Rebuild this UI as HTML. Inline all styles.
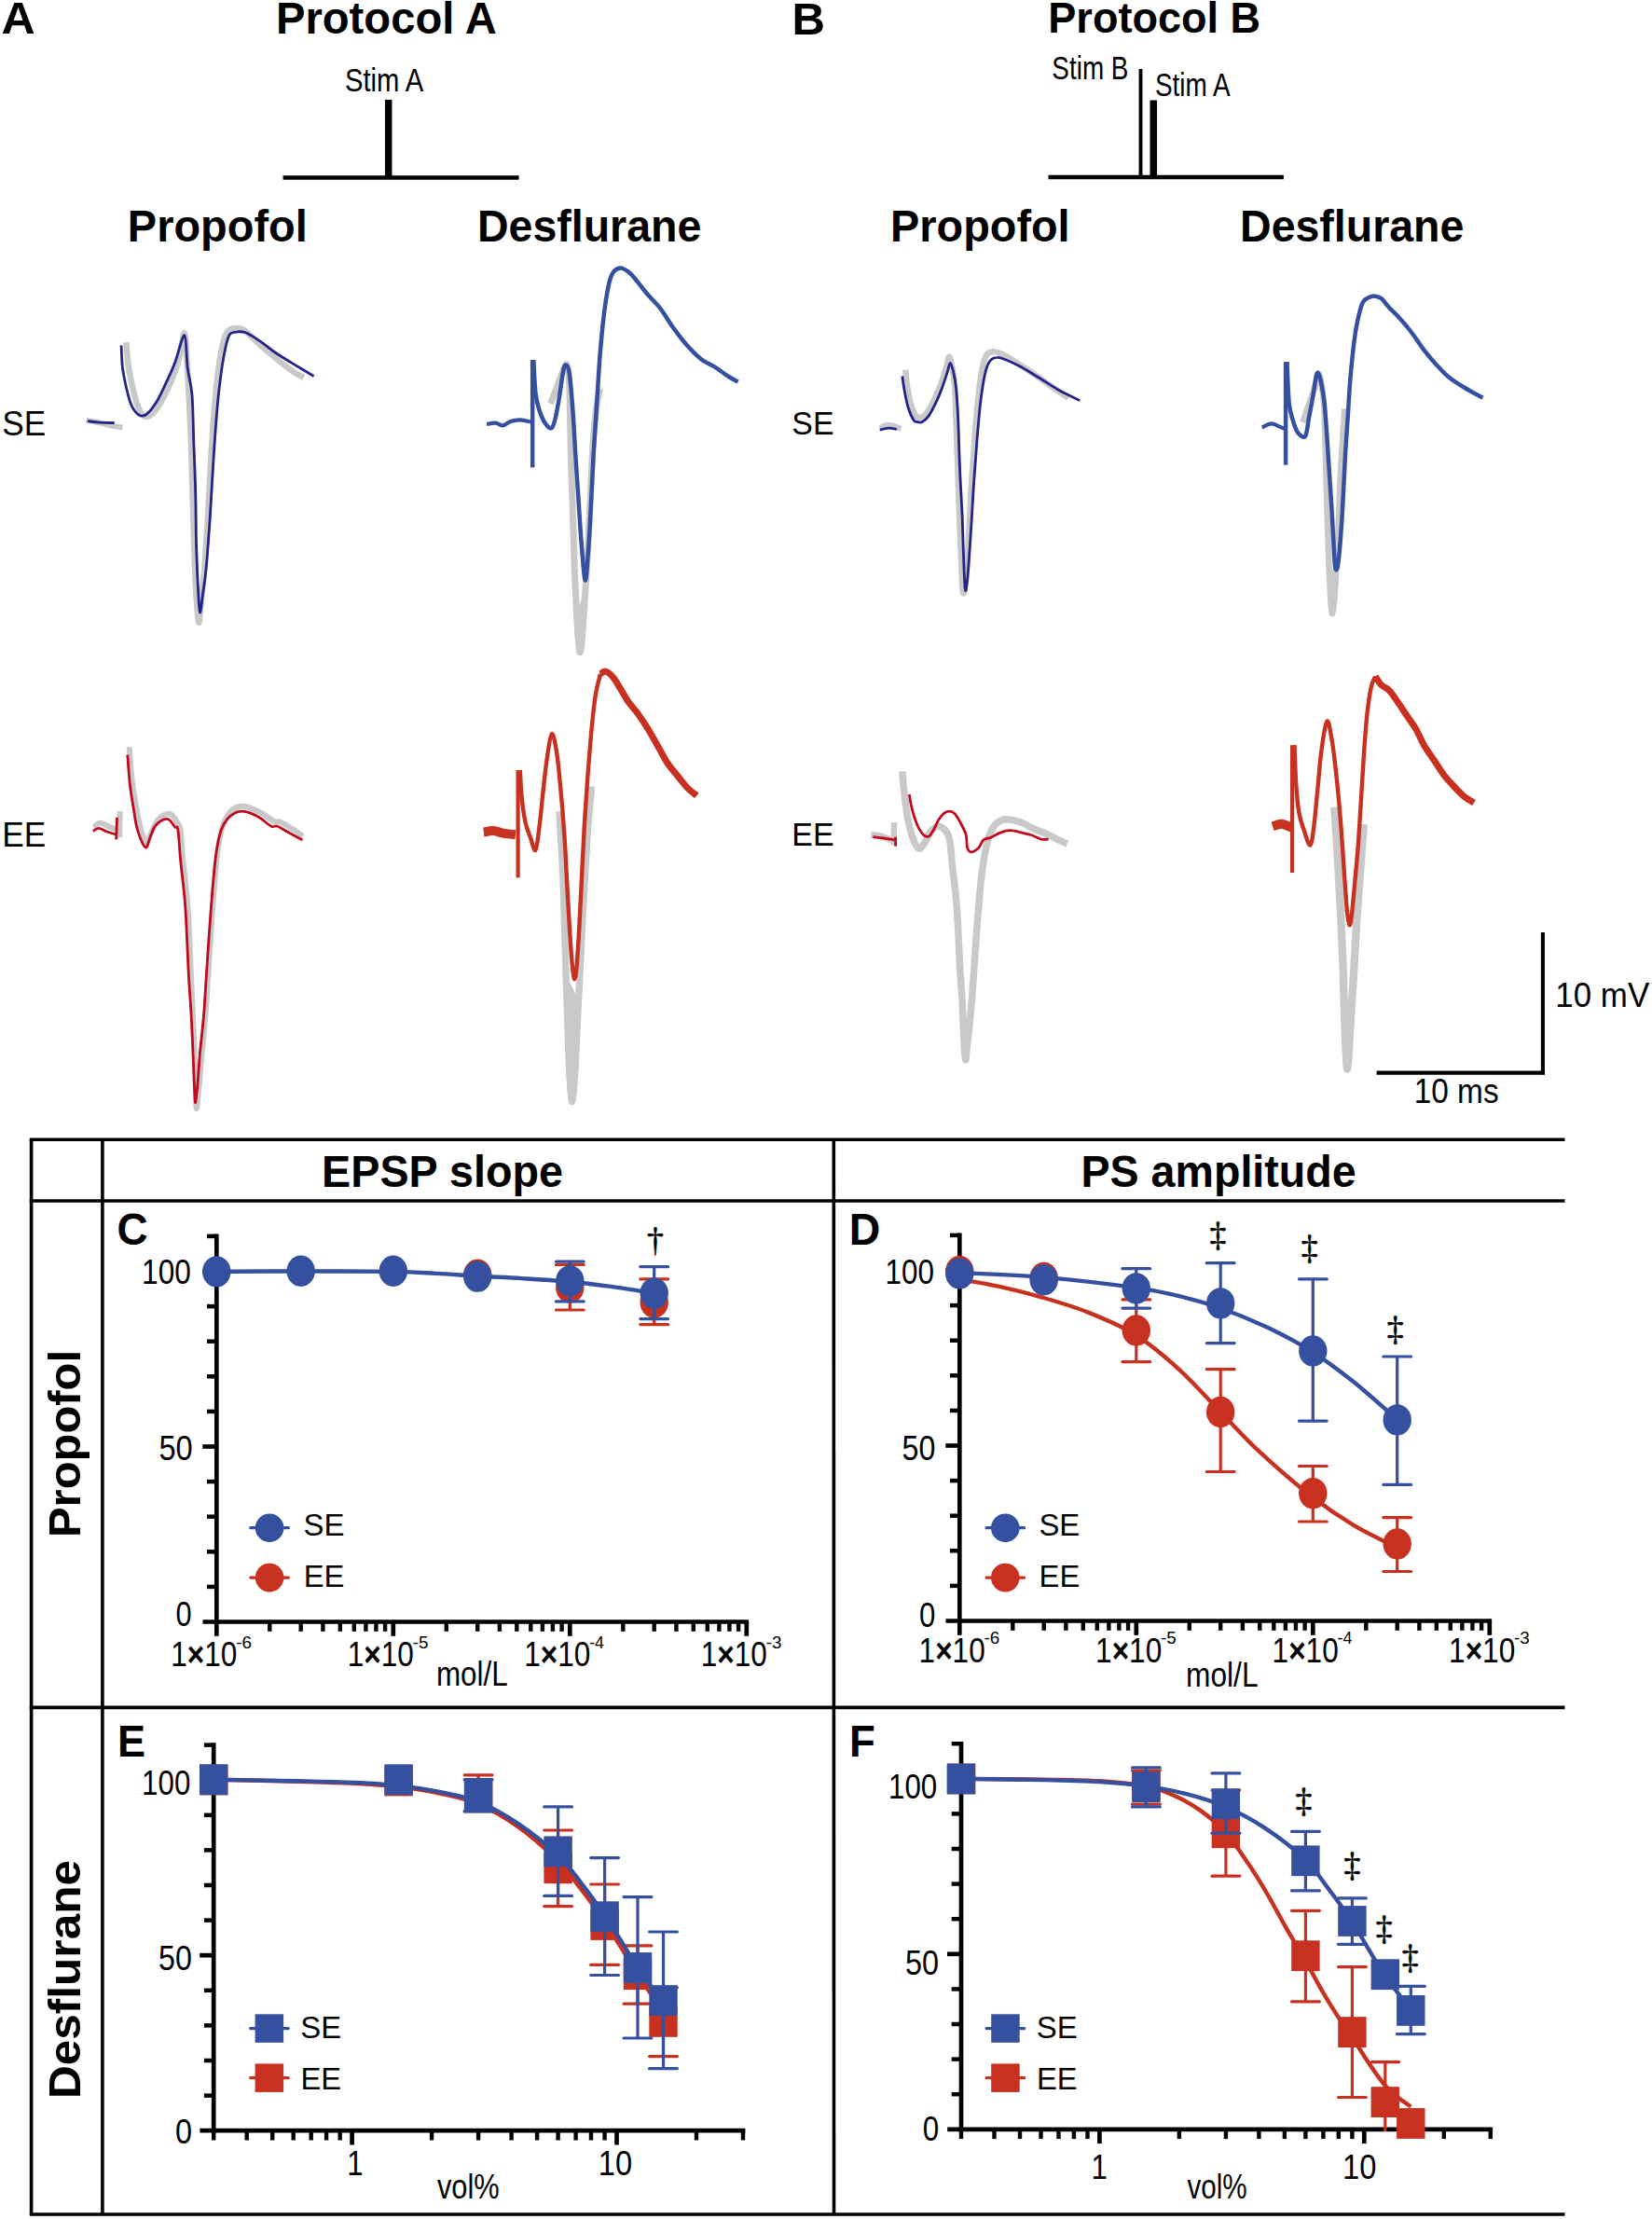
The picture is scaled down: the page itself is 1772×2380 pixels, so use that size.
<!DOCTYPE html>
<html><head><meta charset="utf-8"><title>Figure</title>
<style>
html,body{margin:0;padding:0;background:#fff;}
svg{display:block;font-family:'Liberation Sans', Arial, Helvetica, sans-serif;}
</style></head><body>
<svg width="1772" height="2380" viewBox="0 0 1772 2380">
<rect width="1772" height="2380" fill="#fff"/>
<text x="1.45" y="36.40" font-size="48.39" font-weight="bold" textLength="36.17" lengthAdjust="spacingAndGlyphs">A</text>
<text x="295.97" y="36.30" font-size="48.18" font-weight="bold" textLength="236.77" lengthAdjust="spacingAndGlyphs">Protocol A</text>
<text x="849.41" y="36.90" font-size="48.70" font-weight="bold" textLength="35.52" lengthAdjust="spacingAndGlyphs">B</text>
<text x="1124.29" y="34.60" font-size="46.31" font-weight="bold" textLength="227.86" lengthAdjust="spacingAndGlyphs">Protocol B</text>
<text x="136.86" y="258.60" font-size="48.50" font-weight="bold" textLength="192.86" lengthAdjust="spacingAndGlyphs">Propofol</text>
<text x="511.99" y="258.70" font-size="48.50" font-weight="bold" textLength="240.30" lengthAdjust="spacingAndGlyphs">Desflurane</text>
<text x="955.07" y="258.50" font-size="48.29" font-weight="bold" textLength="192.55" lengthAdjust="spacingAndGlyphs">Propofol</text>
<text x="1330.09" y="258.50" font-size="48.29" font-weight="bold" textLength="240.30" lengthAdjust="spacingAndGlyphs">Desflurane</text>
<text x="369.90" y="98.10" font-size="35.70" textLength="84.46" lengthAdjust="spacingAndGlyphs">Stim A</text>
<line x1="303.6" y1="190.5" x2="556.6" y2="190.5" stroke="#000" stroke-width="4.5"/>
<line x1="416.7" y1="106.9" x2="416.7" y2="190.5" stroke="#000" stroke-width="7.5"/>
<text x="1128.33" y="84.50" font-size="34.86" textLength="82.14" lengthAdjust="spacingAndGlyphs">Stim B</text>
<text x="1238.95" y="102.60" font-size="34.86" textLength="80.80" lengthAdjust="spacingAndGlyphs">Stim A</text>
<line x1="1124.5" y1="189.9" x2="1376.9" y2="189.9" stroke="#000" stroke-width="4.5"/>
<line x1="1223.5" y1="74.0" x2="1223.5" y2="190.0" stroke="#000" stroke-width="3.9"/>
<line x1="1237.3" y1="107.5" x2="1237.3" y2="190.0" stroke="#000" stroke-width="7.6"/>
<text x="2.30" y="467.40" font-size="36.74" textLength="47.01" lengthAdjust="spacingAndGlyphs">SE</text>
<text x="2.20" y="908.30" font-size="36.74" textLength="47.11" lengthAdjust="spacingAndGlyphs">EE</text>
<text x="849.36" y="466.30" font-size="35.18" textLength="45.19" lengthAdjust="spacingAndGlyphs">SE</text>
<text x="849.32" y="907.00" font-size="35.18" textLength="45.24" lengthAdjust="spacingAndGlyphs">EE</text>
<path d="M92.5,450.9C95.0,451.4 102.4,452.6 107.3,453.6C112.2,454.6 118.0,456.3 122.0,457.1C126.0,457.9 129.8,458.2 131.4,458.4" fill="none" stroke="#c9c9c9" stroke-width="6" stroke-linejoin="round" stroke-linecap="butt"/>
<path d="M135.4,367.3C135.7,370.8 136.3,381.1 137.3,388.7C138.3,396.3 140.0,405.5 141.6,412.9C143.2,420.2 145.1,427.6 147.0,433.0C148.8,438.3 150.5,442.9 152.9,445.0C155.2,447.1 157.8,447.6 160.9,445.6C164.0,443.6 168.1,438.6 171.6,433.0C175.2,427.3 179.0,419.3 182.4,411.5C185.7,403.7 189.1,395.1 191.7,386.0C194.3,377.0 196.4,356.6 197.9,357.1C199.4,357.5 199.8,377.2 200.6,388.7C201.4,400.3 202.0,412.0 202.7,426.3C203.5,440.6 204.3,457.6 204.9,474.5C205.5,491.5 206.0,510.3 206.5,528.2C207.0,546.0 207.5,564.8 208.1,581.8C208.7,598.8 209.1,615.8 210.0,630.1C210.8,644.4 212.2,665.8 213.2,667.6C214.2,669.4 215.1,650.6 216.1,640.8C217.2,631.0 218.3,622.0 219.4,608.6C220.4,595.2 221.5,579.1 222.6,560.3C223.7,541.6 224.9,515.7 226.1,496.0C227.2,476.3 228.3,458.4 229.6,442.4C230.8,426.3 232.4,411.1 233.8,399.4C235.3,387.8 236.7,379.6 238.1,372.6C239.6,365.7 240.8,361.2 242.7,357.9C244.6,354.5 246.3,353.2 249.4,352.5C252.5,351.8 257.0,351.4 261.5,353.9C265.9,356.3 270.6,362.4 276.2,367.3C281.8,372.2 288.7,378.2 295.0,383.4C301.2,388.5 308.6,394.5 313.8,398.1C318.9,401.7 323.8,403.7 325.8,404.8" fill="none" stroke="#c9c9c9" stroke-width="6.5" stroke-linejoin="round" stroke-linecap="butt"/>
<path d="M93.9,451.7C96.1,452.0 102.4,452.8 107.3,453.1C112.1,453.4 120.2,453.5 122.8,453.6" fill="none" stroke="#23238a" stroke-width="2.8" stroke-linejoin="round" stroke-linecap="butt"/>
<path d="M130.1,370.5C130.3,374.4 130.5,386.6 131.4,394.1C132.3,401.6 133.9,408.8 135.4,415.5C137.0,422.2 138.6,429.4 140.8,434.3C143.0,439.2 146.2,443.3 148.8,445.0C151.5,446.7 153.7,446.7 156.9,444.5C160.0,442.3 164.0,437.3 167.6,431.6C171.2,425.9 175.0,417.3 178.3,410.2C181.7,403.0 184.5,397.1 187.7,388.7C191.0,380.3 195.7,358.9 197.9,359.8C200.1,360.7 199.8,383.4 201.1,394.1C202.5,404.7 204.8,410.2 206.0,423.6C207.1,437.0 207.2,457.1 207.8,474.5C208.5,492.0 209.3,510.3 209.7,528.2C210.2,546.0 210.1,564.8 210.5,581.8C211.0,598.8 211.7,617.6 212.4,630.1C213.1,642.6 213.6,656.0 214.5,656.9C215.4,657.8 216.6,643.5 217.8,635.4C218.9,627.4 220.0,622.0 221.2,608.6C222.5,595.2 223.9,575.1 225.3,555.0C226.6,534.9 227.9,508.1 229.3,487.9C230.6,467.8 232.0,449.1 233.3,434.3C234.6,419.6 236.0,409.3 237.3,399.4C238.7,389.6 240.0,381.8 241.4,375.3C242.7,368.8 243.8,363.7 245.4,360.6C246.9,357.4 247.8,357.2 250.7,356.5C253.6,355.9 258.1,355.0 262.8,356.5C267.5,358.1 273.5,362.4 278.9,365.9C284.3,369.5 288.7,373.7 295.0,378.0C301.2,382.2 309.5,387.2 316.4,391.4C323.4,395.6 333.2,401.5 336.6,403.5" fill="none" stroke="#23238a" stroke-width="2.8" stroke-linejoin="round" stroke-linecap="butt"/>
<path d="M590.5,433.0C591.6,430.1 595.1,421.1 597.2,415.5C599.3,410.0 601.6,403.6 603.4,399.4C605.2,395.3 606.7,389.1 607.9,390.9C609.1,392.7 609.9,394.9 610.6,410.2C611.3,425.5 611.6,460.7 612.2,482.6C612.8,504.5 613.4,520.6 614.1,541.6C614.8,562.6 615.5,588.5 616.2,608.6C617.0,628.7 617.9,648.4 618.7,662.3C619.4,676.1 620.2,685.5 620.8,691.8C621.4,698.0 621.6,699.8 622.1,699.8C622.6,699.8 623.2,697.1 623.7,691.8C624.3,686.4 625.0,677.0 625.6,667.6C626.3,658.2 627.0,647.5 627.8,635.4C628.5,623.4 629.4,608.6 630.2,595.2C630.9,581.8 631.3,575.1 632.3,555.0C633.3,534.9 634.8,494.6 636.1,474.5C637.4,454.4 638.9,443.9 640.1,434.3C641.4,424.7 643.0,419.8 643.6,416.9" fill="none" stroke="#c9c9c9" stroke-width="7" stroke-linejoin="round" stroke-linecap="butt"/>
<polygon points="618.7,662.3 620.8,691.8 622.1,699.8 623.7,691.8 625.6,667.6 627.8,635.4" fill="#c9c9c9" stroke="#c9c9c9" stroke-width="3" stroke-linejoin="round"/>
<path d="M522.1,455.0C523.7,454.7 528.6,453.4 531.5,453.6C534.4,453.8 536.9,456.6 539.5,456.3C542.2,456.0 544.5,453.0 547.6,452.0C550.7,451.0 554.7,450.3 558.3,450.4C561.9,450.5 567.3,452.2 569.0,452.5" fill="none" stroke="#3650a0" stroke-width="4.2" stroke-linejoin="round" stroke-linecap="butt"/>
<line x1="571.2" y1="386.0" x2="571.2" y2="501.4" stroke="#3650a0" stroke-width="4.5"/>
<path d="M572.3,386.0C572.6,391.8 573.4,412.0 574.4,420.9C575.4,429.8 576.6,434.1 578.4,439.7C580.2,445.3 582.9,451.2 585.1,454.4C587.4,457.6 590.0,460.1 591.8,459.0C593.6,457.9 594.5,453.2 595.9,447.7C597.2,442.3 598.5,434.3 599.9,426.3C601.2,418.2 602.8,405.3 603.9,399.4C605.0,393.6 605.5,391.4 606.6,391.4C607.7,391.4 609.3,391.0 610.6,399.4C611.9,407.9 613.5,427.6 614.6,442.4C615.7,457.1 616.4,473.6 617.3,487.9C618.2,502.2 619.0,513.4 620.0,528.2C621.0,542.9 622.0,560.8 623.2,576.4C624.5,592.1 626.2,618.9 627.5,622.0C628.8,625.2 629.6,608.6 630.7,595.2C631.8,581.8 633.0,559.5 633.9,541.6C634.9,523.7 635.6,505.8 636.6,487.9C637.6,470.1 638.9,452.2 640.1,434.3C641.3,416.4 642.2,397.2 643.6,380.7C644.9,364.1 646.5,348.0 648.1,335.1C649.8,322.1 651.7,310.3 653.5,302.9C655.3,295.5 656.6,293.4 658.9,290.8C661.1,288.3 664.0,287.2 666.9,287.6C669.8,288.1 673.4,291.0 676.3,293.5C679.2,296.1 681.2,299.1 684.4,302.9C687.5,306.7 691.1,311.6 695.1,316.3C699.1,321.0 704.0,325.3 708.5,331.1C713.0,336.9 717.4,344.9 721.9,351.2C726.4,357.4 730.4,363.0 735.3,368.6C740.2,374.2 746.0,380.5 751.4,384.7C756.8,388.9 762.6,391.0 767.5,394.1C772.4,397.2 776.9,400.9 780.9,403.5C784.9,406.1 789.8,408.6 791.6,409.6" fill="none" stroke="#3650a0" stroke-width="4.5" stroke-linejoin="round" stroke-linecap="butt"/>
<path d="M100.6,887.5C101.7,886.7 104.4,882.8 107.3,882.7C110.2,882.6 114.9,885.7 118.0,887.0C121.1,888.2 124.7,889.6 126.0,890.2" fill="none" stroke="#c9c9c9" stroke-width="6" stroke-linejoin="round" stroke-linecap="butt"/>
<path d="M128.7,870.1L128.2,898.2" fill="none" stroke="#c9c9c9" stroke-width="6" stroke-linejoin="round" stroke-linecap="butt"/>
<path d="M138.6,801.1C139.1,806.6 140.2,823.9 141.3,833.9C142.4,843.8 143.9,852.0 145.3,860.7C146.8,869.4 148.3,879.0 150.2,886.2C152.1,893.3 154.9,902.5 156.9,903.6C158.9,904.7 160.3,896.7 162.2,892.9C164.2,889.1 166.2,883.9 168.4,880.8C170.6,877.7 173.1,875.3 175.7,874.1C178.2,872.9 181.1,872.0 183.7,873.5C186.2,875.1 189.3,880.7 190.9,883.5C192.6,886.2 192.7,883.7 193.6,890.2C194.5,896.7 195.0,909.4 196.3,922.4C197.6,935.3 200.0,953.6 201.1,967.9C202.3,982.2 202.6,994.8 203.3,1008.2C203.9,1021.6 204.5,1035.0 205.1,1048.4C205.8,1061.8 206.4,1075.2 207.0,1088.6C207.6,1102.0 208.1,1115.4 208.6,1128.8C209.1,1142.3 209.6,1159.0 210.0,1169.1C210.3,1179.1 210.2,1189.2 210.8,1189.2C211.3,1189.2 212.2,1179.1 213.2,1169.1C214.2,1159.0 215.5,1142.3 216.7,1128.8C217.9,1115.4 219.4,1102.0 220.4,1088.6C221.5,1075.2 222.2,1061.8 223.1,1048.4C224.0,1035.0 224.7,1023.8 225.8,1008.2C226.9,992.5 228.3,970.2 229.6,954.5C230.8,938.9 231.8,925.7 233.3,914.3C234.8,902.9 236.7,893.1 238.7,886.2C240.7,879.2 242.9,876.1 245.4,872.7C247.8,869.4 250.7,867.4 253.4,866.0C256.1,864.7 258.6,864.5 261.5,864.7C264.4,864.9 267.5,866.0 270.9,867.4C274.2,868.7 277.8,870.5 281.6,872.7C285.4,875.0 290.5,879.3 293.6,880.8C296.8,882.3 297.4,880.5 300.3,881.6C303.3,882.7 307.0,884.9 311.1,887.5C315.2,890.0 322.7,895.3 325.0,896.9" fill="none" stroke="#c9c9c9" stroke-width="6" stroke-linejoin="round" stroke-linecap="butt"/>
<path d="M99.8,891.5C100.8,891.0 103.3,888.2 105.9,888.3C108.5,888.4 112.2,891.2 115.3,892.3C118.4,893.4 123.1,894.6 124.7,895.0" fill="none" stroke="#c2081c" stroke-width="2.8" stroke-linejoin="round" stroke-linecap="butt"/>
<path d="M125.5,876.8L124.7,900.4" fill="none" stroke="#c2081c" stroke-width="2.8" stroke-linejoin="round" stroke-linecap="butt"/>
<path d="M136.8,809.7C137.2,815.1 138.3,832.1 139.4,841.9C140.6,851.7 142.1,860.7 143.5,868.7C144.8,876.8 145.4,883.5 147.5,890.2C149.6,896.9 153.8,907.6 156.1,908.9C158.3,910.3 159.2,902.0 160.9,898.2C162.6,894.4 164.0,889.3 166.3,886.2C168.5,883.0 171.9,880.7 174.3,879.4C176.8,878.2 178.8,877.7 181.0,878.9C183.2,880.2 186.1,885.1 187.7,887.0C189.4,888.8 190.0,884.3 190.9,890.2C191.9,896.1 192.4,909.4 193.6,922.4C194.9,935.3 197.3,953.6 198.4,967.9C199.6,982.2 199.9,994.8 200.6,1008.2C201.3,1021.6 201.7,1035.0 202.5,1048.4C203.2,1061.8 204.4,1075.2 205.1,1088.6C205.9,1102.0 206.4,1115.4 207.0,1128.8C207.6,1142.3 208.2,1160.1 208.6,1169.1C209.1,1178.0 209.2,1183.4 209.7,1182.5C210.2,1181.6 211.0,1172.6 211.9,1163.7C212.7,1154.8 213.4,1141.4 214.5,1128.8C215.7,1116.3 217.4,1102.0 218.6,1088.6C219.7,1075.2 220.3,1061.8 221.2,1048.4C222.1,1035.0 222.8,1023.8 223.9,1008.2C225.0,992.5 226.6,970.2 227.9,954.5C229.3,938.9 230.4,925.0 232.0,914.3C233.5,903.6 235.3,896.2 237.3,890.2C239.3,884.1 241.6,881.1 244.0,878.1C246.5,875.1 249.4,873.3 252.1,871.9C254.8,870.6 257.4,870.1 260.1,870.1C262.8,870.1 265.0,870.7 268.2,871.9C271.3,873.1 275.1,874.9 278.9,877.3C282.7,879.7 287.8,884.7 291.0,886.2C294.1,887.6 294.8,885.1 297.7,886.2C300.6,887.2 303.9,889.9 308.4,892.3C312.9,894.8 321.8,899.5 324.5,900.9" fill="none" stroke="#c2081c" stroke-width="2.8" stroke-linejoin="round" stroke-linecap="butt"/>
<path d="M599.9,870.3C600.2,875.9 601.1,892.0 601.8,903.8C602.4,915.7 603.3,926.2 603.9,941.4C604.5,956.5 605.0,977.1 605.5,995.0C606.0,1012.9 606.6,1033.0 607.1,1048.6C607.6,1064.3 608.0,1075.4 608.5,1088.8C608.9,1102.3 609.3,1117.0 609.8,1129.1C610.3,1141.1 610.8,1152.5 611.4,1161.2C612.0,1170.0 612.6,1180.0 613.3,1181.4C614.0,1182.7 614.8,1175.8 615.4,1169.3C616.1,1162.8 616.7,1152.8 617.3,1142.5C617.9,1132.2 618.4,1118.8 618.9,1107.6C619.5,1096.4 619.8,1089.7 620.5,1075.4C621.2,1061.1 622.2,1041.9 623.2,1021.8C624.2,1001.7 625.4,977.1 626.7,954.8C627.9,932.4 629.4,906.3 630.7,887.7C632.1,869.2 634.1,850.8 634.7,843.5" fill="none" stroke="#c9c9c9" stroke-width="7.2" stroke-linejoin="round" stroke-linecap="butt"/>
<polygon points="607.1,1048.6 608.5,1088.8 609.8,1129.1 611.4,1161.2 613.3,1181.4 615.4,1169.3 617.3,1142.5 618.9,1107.6 620.5,1075.4" fill="#c9c9c9" stroke="#c9c9c9" stroke-width="3" stroke-linejoin="round"/>
<path d="M518.9,892.5C520.5,892.3 525.4,890.8 528.8,890.9C532.3,891.1 535.5,892.9 539.5,893.6C543.6,894.3 550.7,895.0 552.9,895.2" fill="none" stroke="#c83020" stroke-width="10" stroke-linejoin="round" stroke-linecap="butt"/>
<line x1="555.6" y1="826.0" x2="555.6" y2="941.4" stroke="#c83020" stroke-width="4.2"/>
<path d="M557.8,826.0C558.1,831.0 558.7,846.2 559.7,855.5C560.6,864.9 562.1,875.2 563.7,882.4C565.2,889.5 567.3,893.5 569.0,898.4C570.8,903.4 572.8,913.6 574.4,911.9C576.0,910.1 577.1,898.0 578.4,887.7C579.8,877.4 581.1,862.2 582.4,850.2C583.8,838.1 584.9,825.8 586.5,815.3C588.0,804.8 590.0,788.5 591.8,787.2C593.6,785.8 595.6,797.7 597.2,807.3C598.8,816.9 599.9,830.5 601.2,844.8C602.6,859.1 604.1,877.0 605.2,893.1C606.4,909.2 607.0,925.3 607.9,941.4C608.8,957.4 609.7,974.9 610.6,989.6C611.5,1004.4 612.4,1019.8 613.3,1029.8C614.2,1039.9 615.1,1049.1 616.0,1050.0C616.9,1050.9 617.8,1044.4 618.7,1035.2C619.5,1026.0 620.4,1010.6 621.3,995.0C622.2,979.3 623.1,959.2 624.0,941.4C624.9,923.5 625.6,906.5 626.7,887.7C627.8,868.9 629.4,846.6 630.7,828.7C632.1,810.8 633.4,794.3 634.7,780.5C636.1,766.6 637.2,755.2 638.8,745.6C640.3,736.0 643.2,726.6 644.1,722.8" fill="none" stroke="#c83020" stroke-width="4.4" stroke-linejoin="round" stroke-linecap="butt"/>
<path d="M644.1,722.8C645.0,722.3 647.3,719.5 649.5,720.1C651.7,720.7 654.9,723.2 657.5,726.3C660.2,729.4 662.9,734.5 665.6,738.9C668.3,743.2 670.5,747.8 673.6,752.3C676.8,756.8 680.8,760.8 684.4,765.7C687.9,770.6 691.5,776.0 695.1,781.8C698.7,787.6 702.2,794.3 705.8,800.6C709.4,806.8 713.0,814.0 716.5,819.3C720.1,824.7 723.7,828.4 727.3,832.7C730.8,837.1 734.6,842.2 738.0,845.6C741.3,849.1 745.8,852.1 747.4,853.4" fill="none" stroke="#c83020" stroke-width="7" stroke-linejoin="round" stroke-linecap="butt"/>
<path d="M943.7,459.0C945.2,458.4 949.2,455.6 953.0,455.8C956.8,455.9 964.2,459.1 966.5,459.8" fill="none" stroke="#c9c9c9" stroke-width="6" stroke-linejoin="round" stroke-linecap="butt"/>
<path d="M971.3,396.8C971.6,399.9 972.2,409.3 973.2,415.5C974.1,421.8 975.7,429.3 977.2,434.3C978.7,439.3 980.2,443.3 982.0,445.6C983.8,447.8 985.8,448.3 987.9,447.7C990.0,447.2 992.1,445.7 994.6,442.4C997.1,439.0 1000.1,433.0 1002.7,427.6C1005.2,422.2 1007.7,416.0 1009.9,410.2C1012.0,404.4 1014.1,397.3 1015.5,392.7C1016.9,388.2 1017.2,382.6 1018.2,382.8C1019.2,383.0 1020.4,388.6 1021.4,394.1C1022.4,399.5 1023.4,406.6 1024.1,415.5C1024.8,424.5 1024.9,433.4 1025.4,447.7C1026.0,462.0 1026.7,483.5 1027.3,501.4C1028.0,519.2 1028.6,539.3 1029.2,555.0C1029.8,570.6 1030.2,581.8 1030.8,595.2C1031.4,608.6 1032.1,631.4 1033.0,635.4C1033.9,639.5 1035.1,630.5 1036.2,619.3C1037.2,608.2 1038.4,585.8 1039.4,568.4C1040.4,551.0 1041.3,531.3 1042.3,514.8C1043.4,498.2 1044.5,483.0 1045.6,469.2C1046.6,455.3 1047.6,443.2 1048.8,431.6C1050.0,420.0 1051.3,407.7 1052.8,399.4C1054.3,391.2 1055.7,385.7 1057.6,382.0C1059.5,378.3 1061.7,377.6 1064.3,377.2C1067.0,376.7 1069.5,377.4 1073.7,379.3C1078.0,381.3 1084.0,385.1 1089.8,388.7C1095.6,392.3 1102.3,396.5 1108.6,400.8C1114.8,405.0 1121.1,409.9 1127.4,414.2C1133.6,418.5 1143.0,424.7 1146.1,426.8" fill="none" stroke="#c9c9c9" stroke-width="6.5" stroke-linejoin="round" stroke-linecap="butt"/>
<path d="M943.7,461.1C945.2,460.8 950.0,459.4 953.0,459.2C956.1,459.1 960.4,460.1 961.9,460.3" fill="none" stroke="#23238a" stroke-width="2.8" stroke-linejoin="round" stroke-linecap="butt"/>
<path d="M967.8,403.5C968.2,406.4 969.4,415.1 970.5,420.9C971.6,426.7 972.9,433.4 974.5,438.3C976.1,443.2 978.3,448.0 979.9,450.4C981.4,452.8 982.3,452.2 983.9,452.5C985.4,452.9 987.2,453.6 989.2,452.5C991.3,451.5 993.5,449.9 995.9,446.4C998.4,442.9 1001.5,436.8 1004.0,431.6C1006.5,426.5 1008.7,420.9 1010.7,415.5C1012.7,410.2 1014.6,403.8 1016.1,399.4C1017.5,395.1 1018.2,389.3 1019.3,389.3C1020.4,389.3 1021.7,395.1 1022.8,399.4C1023.8,403.8 1024.6,407.5 1025.4,415.5C1026.3,423.6 1026.9,433.4 1027.6,447.7C1028.3,462.0 1028.7,483.5 1029.5,501.4C1030.2,519.2 1031.5,539.3 1032.2,555.0C1032.8,570.6 1033.0,582.2 1033.5,595.2C1034.0,608.2 1034.6,629.2 1035.4,632.8C1036.1,636.3 1037.0,627.4 1038.1,616.7C1039.1,605.9 1040.4,585.4 1041.5,568.4C1042.7,551.4 1043.6,531.3 1044.8,514.8C1045.9,498.2 1047.1,483.0 1048.2,469.2C1049.4,455.3 1050.4,442.8 1051.7,431.6C1053.1,420.5 1054.6,409.5 1056.3,402.1C1057.9,394.8 1059.4,390.5 1061.7,387.4C1063.9,384.3 1066.8,383.6 1069.7,383.4C1072.6,383.1 1074.8,384.3 1079.1,386.0C1083.3,387.7 1089.4,390.4 1095.2,393.5C1101.0,396.7 1107.2,400.7 1113.9,404.8C1120.6,408.9 1128.0,414.1 1135.4,418.2C1142.8,422.3 1154.4,427.6 1158.2,429.5" fill="none" stroke="#23238a" stroke-width="2.8" stroke-linejoin="round" stroke-linecap="butt"/>
<path d="M1397.4,453.1C1398.3,450.4 1400.7,442.8 1402.7,437.0C1404.8,431.2 1407.4,424.3 1409.5,418.2C1411.5,412.2 1413.2,400.3 1414.8,400.8C1416.4,401.2 1417.9,413.1 1418.8,420.9C1419.8,428.7 1420.0,429.8 1420.7,447.7C1421.4,465.6 1422.3,508.1 1422.9,528.2C1423.4,548.3 1423.8,555.0 1424.2,568.4C1424.6,581.8 1425.0,596.6 1425.5,608.6C1426.0,620.7 1426.6,632.5 1427.1,640.8C1427.7,649.1 1428.1,657.3 1428.8,658.2C1429.4,659.1 1430.2,653.1 1430.9,646.2C1431.6,639.2 1432.4,627.4 1433.0,616.7C1433.7,605.9 1434.2,598.8 1434.9,581.8C1435.7,564.8 1436.7,533.5 1437.6,514.8C1438.5,496.0 1439.5,481.9 1440.3,469.2C1441.0,456.4 1441.9,443.5 1442.2,438.3" fill="none" stroke="#c9c9c9" stroke-width="6.5" stroke-linejoin="round" stroke-linecap="butt"/>
<polygon points="1425.5,608.6 1427.1,640.8 1428.8,658.2 1430.9,646.2 1433.0,616.7" fill="#c9c9c9" stroke="#c9c9c9" stroke-width="3" stroke-linejoin="round"/>
<path d="M1353.7,458.4C1355.4,457.8 1360.6,454.5 1363.9,454.4C1367.1,454.3 1370.9,457.0 1373.2,457.9C1375.6,458.8 1377.0,459.5 1377.8,459.8" fill="none" stroke="#3650a0" stroke-width="4.2" stroke-linejoin="round" stroke-linecap="butt"/>
<line x1="1379.1" y1="388.2" x2="1379.1" y2="498.7" stroke="#3650a0" stroke-width="4.5"/>
<path d="M1380.5,388.2C1380.8,395.4 1381.6,421.3 1382.6,431.6C1383.7,442.0 1385.1,445.0 1386.7,450.4C1388.2,455.8 1389.8,460.9 1392.0,463.8C1394.3,466.7 1398.1,470.5 1400.1,467.8C1402.1,465.1 1402.7,454.6 1404.1,447.7C1405.4,440.8 1406.8,433.9 1408.1,426.3C1409.5,418.7 1410.9,405.9 1412.1,402.1C1413.3,398.3 1414.0,399.0 1415.4,403.5C1416.7,407.9 1418.9,419.3 1420.2,428.9C1421.4,438.6 1422.0,449.1 1422.9,461.1C1423.8,473.2 1424.6,487.9 1425.5,501.4C1426.4,514.8 1427.4,528.2 1428.2,541.6C1429.0,555.0 1429.7,570.6 1430.4,581.8C1431.0,593.0 1431.5,604.4 1432.2,608.6C1433.0,612.9 1434.0,611.7 1434.9,607.3C1435.8,602.8 1436.7,592.8 1437.6,581.8C1438.5,570.9 1439.4,557.2 1440.3,541.6C1441.2,525.9 1442.1,503.6 1443.0,487.9C1443.9,472.3 1444.8,461.1 1445.7,447.7C1446.5,434.3 1447.2,420.9 1448.3,407.5C1449.5,394.1 1451.0,378.0 1452.4,367.3C1453.7,356.5 1454.8,350.3 1456.4,343.1C1457.9,336.0 1459.7,328.4 1461.7,324.4C1463.8,320.3 1466.2,320.1 1468.4,319.0C1470.7,317.9 1472.9,317.4 1475.2,317.7C1477.4,317.9 1479.4,318.3 1481.9,320.3C1484.3,322.3 1486.8,326.4 1489.9,329.7C1493.0,333.1 1496.6,336.0 1500.6,340.5C1504.7,344.9 1509.6,350.7 1514.0,356.5C1518.5,362.4 1523.0,369.5 1527.4,375.3C1531.9,381.1 1536.4,386.5 1540.9,391.4C1545.3,396.3 1549.3,400.8 1554.3,404.8C1559.2,408.8 1564.3,411.9 1570.4,415.5C1576.4,419.2 1587.1,424.9 1590.5,426.8" fill="none" stroke="#3650a0" stroke-width="4.5" stroke-linejoin="round" stroke-linecap="butt"/>
<path d="M934.3,895.5C936.1,895.8 941.4,896.0 945.0,896.9C948.6,897.8 953.9,900.2 955.7,900.9" fill="none" stroke="#c9c9c9" stroke-width="7" stroke-linejoin="round" stroke-linecap="butt"/>
<path d="M959.2,882.1L958.4,906.3" fill="none" stroke="#c9c9c9" stroke-width="6.5" stroke-linejoin="round" stroke-linecap="butt"/>
<path d="M967.8,827.2C968.2,831.8 969.4,846.1 970.5,855.3C971.6,864.5 972.9,874.5 974.5,882.1C976.1,889.7 978.0,896.2 979.9,900.9C981.7,905.6 983.7,909.8 985.8,910.3C987.8,910.7 989.8,906.7 991.9,903.6C994.1,900.5 996.2,894.4 998.6,891.5C1001.1,888.6 1004.0,886.2 1006.7,886.2C1009.4,886.2 1012.7,889.1 1014.7,891.5C1016.7,894.0 1017.6,894.9 1018.7,900.9C1019.9,906.9 1020.3,917.4 1021.4,927.7C1022.5,938.0 1024.4,951.4 1025.4,962.6C1026.5,973.8 1026.9,982.7 1027.6,994.8C1028.3,1006.8 1028.7,1021.6 1029.5,1035.0C1030.2,1048.4 1031.4,1061.8 1032.2,1075.2C1032.9,1088.6 1033.4,1105.2 1034.0,1115.4C1034.6,1125.7 1035.1,1136.0 1035.6,1136.9C1036.2,1137.8 1036.6,1128.8 1037.5,1120.8C1038.4,1112.8 1039.9,1100.7 1041.0,1088.6C1042.1,1076.6 1043.2,1061.8 1044.2,1048.4C1045.2,1035.0 1045.9,1021.6 1046.9,1008.2C1047.9,994.8 1049.0,980.5 1050.1,967.9C1051.2,955.4 1052.1,943.8 1053.6,933.1C1055.1,922.4 1057.2,911.0 1059.0,903.6C1060.8,896.2 1062.1,892.6 1064.3,888.8C1066.6,885.0 1069.5,882.4 1072.4,880.8C1075.3,879.1 1078.0,878.7 1081.8,878.9C1085.6,879.1 1090.7,880.5 1095.2,882.1C1099.6,883.8 1104.1,886.8 1108.6,888.8C1113.0,890.8 1117.5,892.2 1122.0,894.2C1126.5,896.2 1131.6,899.1 1135.4,900.9C1139.2,902.7 1143.2,904.3 1144.8,904.9" fill="none" stroke="#c9c9c9" stroke-width="7.5" stroke-linejoin="round" stroke-linecap="butt"/>
<path d="M936.4,897.7C938.3,897.9 943.8,898.5 947.7,899.0C951.6,899.6 957.7,900.6 959.7,900.9" fill="none" stroke="#c2081c" stroke-width="2.8" stroke-linejoin="round" stroke-linecap="butt"/>
<path d="M960.6,897.7L960.6,907.6" fill="none" stroke="#c2081c" stroke-width="2.8" stroke-linejoin="round" stroke-linecap="butt"/>
<path d="M975.3,852.1C975.8,854.9 977.1,863.3 978.5,868.7C979.9,874.2 981.9,880.3 983.9,884.8C985.9,889.3 988.5,893.5 990.6,895.5C992.7,897.5 994.7,897.8 996.5,896.9C998.3,896.0 999.6,893.1 1001.3,890.2C1003.0,887.3 1004.9,882.4 1006.7,879.4C1008.5,876.5 1010.2,874.3 1012.0,872.7C1013.9,871.2 1015.9,870.1 1017.9,870.1C1020.0,870.1 1022.0,870.5 1024.1,872.7C1026.3,875.0 1028.8,879.7 1030.8,883.5C1032.8,887.3 1035.1,891.3 1036.2,895.5C1037.3,899.8 1036.6,905.9 1037.5,908.9C1038.4,912.0 1039.5,913.7 1041.5,913.8C1043.5,913.9 1047.3,911.6 1049.6,909.5C1051.8,907.3 1052.7,902.8 1054.9,900.9C1057.2,899.0 1059.9,899.6 1063.0,898.2C1066.1,896.9 1070.4,894.1 1073.7,892.9C1077.1,891.6 1079.5,890.7 1083.1,890.7C1086.7,890.7 1091.4,892.1 1095.2,892.9C1099.0,893.7 1102.3,894.3 1105.9,895.5C1109.5,896.7 1113.5,899.3 1116.6,900.1C1119.8,900.9 1123.3,900.1 1124.7,900.1" fill="none" stroke="#c2081c" stroke-width="2.8" stroke-linejoin="round" stroke-linecap="butt"/>
<path d="M1431.3,865.7C1431.6,869.6 1432.3,881.3 1432.8,888.7C1433.3,896.2 1433.5,898.8 1434.2,910.5C1434.9,922.2 1436.1,944.8 1436.9,959.0C1437.7,973.1 1438.2,981.2 1438.8,995.3C1439.5,1009.4 1440.2,1027.6 1440.8,1043.7C1441.3,1059.8 1441.7,1078.0 1442.2,1092.1C1442.7,1106.3 1443.2,1119.4 1443.7,1128.5C1444.2,1137.5 1444.6,1146.6 1445.1,1146.6C1445.6,1146.6 1446.1,1139.5 1446.8,1128.5C1447.6,1117.4 1448.8,1094.1 1449.7,1080.0C1450.6,1065.9 1451.3,1057.8 1452.1,1043.7C1453.0,1029.6 1453.8,1011.4 1454.8,995.3C1455.8,979.1 1457.2,961.0 1458.2,946.9C1459.2,932.7 1460.1,921.0 1460.9,910.5C1461.6,900.0 1462.5,888.3 1462.8,883.9" fill="none" stroke="#c9c9c9" stroke-width="8.3" stroke-linejoin="round" stroke-linecap="butt"/>
<polygon points="1442.2,1092.1 1443.7,1128.5 1445.1,1146.6 1446.8,1128.5 1449.7,1080.0" fill="#c9c9c9" stroke="#c9c9c9" stroke-width="3" stroke-linejoin="round"/>
<path d="M1365.2,886.4C1366.8,885.9 1371.2,883.5 1374.6,883.7C1377.9,883.9 1383.5,887.0 1385.3,887.7" fill="none" stroke="#c83020" stroke-width="10" stroke-linejoin="round" stroke-linecap="butt"/>
<line x1="1386.1" y1="799.2" x2="1386.1" y2="936.0" stroke="#c83020" stroke-width="4.2"/>
<path d="M1388.5,799.2C1388.8,805.9 1389.3,827.4 1390.1,839.4C1390.9,851.5 1391.9,863.1 1393.4,871.6C1394.8,880.1 1396.7,884.6 1398.7,890.4C1400.7,896.2 1403.6,907.4 1405.4,906.5C1407.2,905.6 1408.1,895.3 1409.5,885.0C1410.8,874.8 1412.1,858.2 1413.5,844.8C1414.8,831.4 1415.8,816.4 1417.5,804.6C1419.1,792.7 1421.6,776.0 1423.4,773.7C1425.2,771.5 1426.7,783.4 1428.2,791.2C1429.7,799.0 1430.9,809.1 1432.2,820.7C1433.6,832.3 1435.1,847.5 1436.3,860.9C1437.5,874.3 1438.5,887.7 1439.5,901.1C1440.5,914.5 1441.3,928.8 1442.2,941.4C1443.1,953.9 1444.0,967.7 1444.8,976.2C1445.7,984.7 1446.6,991.9 1447.5,992.3C1448.4,992.8 1449.2,987.4 1450.2,978.9C1451.2,970.4 1452.5,954.3 1453.7,941.4C1454.9,928.4 1456.1,916.3 1457.2,901.1C1458.3,885.9 1459.4,865.8 1460.4,850.2C1461.4,834.5 1462.1,821.1 1463.1,807.3C1464.1,793.4 1465.1,778.7 1466.3,767.0C1467.6,755.4 1469.1,744.5 1470.6,737.5C1472.1,730.6 1474.4,727.5 1475.2,725.5" fill="none" stroke="#c83020" stroke-width="4.4" stroke-linejoin="round" stroke-linecap="butt"/>
<path d="M1475.2,725.5C1476.3,727.0 1479.4,732.4 1481.9,734.9C1484.3,737.3 1487.2,737.5 1489.9,740.2C1492.6,742.9 1494.8,746.5 1497.9,751.0C1501.1,755.4 1505.1,761.7 1508.7,767.0C1512.2,772.4 1516.3,777.8 1519.4,783.1C1522.5,788.5 1524.3,793.9 1527.4,799.2C1530.6,804.6 1534.6,809.9 1538.2,815.3C1541.7,820.7 1545.3,826.7 1548.9,831.4C1552.5,836.1 1556.0,839.7 1559.6,843.5C1563.2,847.3 1566.8,851.3 1570.4,854.2C1573.9,857.1 1579.3,859.8 1581.1,860.9" fill="none" stroke="#c83020" stroke-width="7" stroke-linejoin="round" stroke-linecap="butt"/>
<line x1="1654.9" y1="1000.0" x2="1654.9" y2="1152.6" stroke="#000" stroke-width="4.1"/>
<line x1="1476.6" y1="1150.6" x2="1657.0" y2="1150.6" stroke="#000" stroke-width="4.1"/>
<text x="1668.34" y="1079.80" font-size="36.74" textLength="100.91" lengthAdjust="spacingAndGlyphs">10 mV</text>
<text x="1516.66" y="1182.90" font-size="36.74" textLength="90.95" lengthAdjust="spacingAndGlyphs">10 ms</text>
<line x1="31.8" y1="1222.2" x2="1678.5" y2="1222.2" stroke="#000" stroke-width="3.6"/>
<line x1="31.8" y1="1288.0" x2="1678.5" y2="1288.0" stroke="#000" stroke-width="3.6"/>
<line x1="31.8" y1="1831.4" x2="1678.5" y2="1831.4" stroke="#000" stroke-width="3.6"/>
<line x1="31.8" y1="2375.0" x2="1678.5" y2="2375.0" stroke="#000" stroke-width="3.6"/>
<line x1="33.6" y1="1222.2" x2="33.6" y2="2375.0" stroke="#000" stroke-width="3.6"/>
<line x1="109.9" y1="1222.2" x2="109.9" y2="2375.0" stroke="#000" stroke-width="3.6"/>
<line x1="894.3" y1="1222.2" x2="894.5" y2="2375.0" stroke="#000" stroke-width="3.6"/>
<text x="345.08" y="1272.70" font-size="48.18" font-weight="bold" textLength="258.91" lengthAdjust="spacingAndGlyphs">EPSP slope</text>
<text x="1159.48" y="1272.50" font-size="47.98" font-weight="bold" textLength="295.21" lengthAdjust="spacingAndGlyphs">PS amplitude</text>
<text transform="translate(85.5,1448) rotate(-90)" font-size="48.3" font-weight="bold" text-anchor="end" textLength="201" lengthAdjust="spacingAndGlyphs">Propofol</text>
<text transform="translate(85.5,1995) rotate(-90)" font-size="48.3" font-weight="bold" text-anchor="end" textLength="256" lengthAdjust="spacingAndGlyphs">Desflurane</text>
<text x="125.62" y="1335.40" font-size="48.29" font-weight="bold" textLength="33.14" lengthAdjust="spacingAndGlyphs">C</text>
<line x1="232.3" y1="1323.6" x2="232.3" y2="1741.8" stroke="#000" stroke-width="4.7"/>
<line x1="217.5" y1="1739.5" x2="803.1" y2="1739.5" stroke="#000" stroke-width="4.7"/>
<line x1="222.0" y1="1701.9" x2="232.3" y2="1701.9" stroke="#000" stroke-width="4.5"/>
<line x1="222.0" y1="1664.3" x2="232.3" y2="1664.3" stroke="#000" stroke-width="4.5"/>
<line x1="222.0" y1="1626.7" x2="232.3" y2="1626.7" stroke="#000" stroke-width="4.5"/>
<line x1="222.0" y1="1589.1" x2="232.3" y2="1589.1" stroke="#000" stroke-width="4.5"/>
<line x1="217.3" y1="1551.5" x2="232.3" y2="1551.5" stroke="#000" stroke-width="4.7"/>
<line x1="222.0" y1="1513.9" x2="232.3" y2="1513.9" stroke="#000" stroke-width="4.5"/>
<line x1="222.0" y1="1476.3" x2="232.3" y2="1476.3" stroke="#000" stroke-width="4.5"/>
<line x1="222.0" y1="1438.7" x2="232.3" y2="1438.7" stroke="#000" stroke-width="4.5"/>
<line x1="222.0" y1="1401.1" x2="232.3" y2="1401.1" stroke="#000" stroke-width="4.5"/>
<line x1="217.3" y1="1363.5" x2="232.3" y2="1363.5" stroke="#000" stroke-width="4.7"/>
<line x1="222.0" y1="1325.9" x2="232.3" y2="1325.9" stroke="#000" stroke-width="4.5"/>
<text x="152.09" y="1377.00" font-size="36.11" textLength="52.74" lengthAdjust="spacingAndGlyphs">100</text>
<text x="170.39" y="1565.70" font-size="36.11" textLength="36.28" lengthAdjust="spacingAndGlyphs">50</text>
<text x="188.60" y="1744.00" font-size="36.11" textLength="17.10" lengthAdjust="spacingAndGlyphs">0</text>
<line x1="232.3" y1="1739.5" x2="232.3" y2="1754.8" stroke="#000" stroke-width="4.7"/>
<line x1="289.3" y1="1739.5" x2="289.3" y2="1749.8" stroke="#000" stroke-width="4.4"/>
<line x1="322.7" y1="1739.5" x2="322.7" y2="1749.8" stroke="#000" stroke-width="4.4"/>
<line x1="346.4" y1="1739.5" x2="346.4" y2="1749.8" stroke="#000" stroke-width="4.4"/>
<line x1="364.8" y1="1739.5" x2="364.8" y2="1749.8" stroke="#000" stroke-width="4.4"/>
<line x1="379.8" y1="1739.5" x2="379.8" y2="1749.8" stroke="#000" stroke-width="4.4"/>
<line x1="392.4" y1="1739.5" x2="392.4" y2="1749.8" stroke="#000" stroke-width="4.4"/>
<line x1="403.4" y1="1739.5" x2="403.4" y2="1749.8" stroke="#000" stroke-width="4.4"/>
<line x1="413.1" y1="1739.5" x2="413.1" y2="1749.8" stroke="#000" stroke-width="4.4"/>
<line x1="421.8" y1="1739.5" x2="421.8" y2="1754.8" stroke="#000" stroke-width="4.7"/>
<line x1="478.8" y1="1739.5" x2="478.8" y2="1749.8" stroke="#000" stroke-width="4.4"/>
<line x1="512.2" y1="1739.5" x2="512.2" y2="1749.8" stroke="#000" stroke-width="4.4"/>
<line x1="535.9" y1="1739.5" x2="535.9" y2="1749.8" stroke="#000" stroke-width="4.4"/>
<line x1="554.3" y1="1739.5" x2="554.3" y2="1749.8" stroke="#000" stroke-width="4.4"/>
<line x1="569.3" y1="1739.5" x2="569.3" y2="1749.8" stroke="#000" stroke-width="4.4"/>
<line x1="581.9" y1="1739.5" x2="581.9" y2="1749.8" stroke="#000" stroke-width="4.4"/>
<line x1="592.9" y1="1739.5" x2="592.9" y2="1749.8" stroke="#000" stroke-width="4.4"/>
<line x1="602.6" y1="1739.5" x2="602.6" y2="1749.8" stroke="#000" stroke-width="4.4"/>
<line x1="611.3" y1="1739.5" x2="611.3" y2="1754.8" stroke="#000" stroke-width="4.7"/>
<line x1="668.3" y1="1739.5" x2="668.3" y2="1749.8" stroke="#000" stroke-width="4.4"/>
<line x1="701.7" y1="1739.5" x2="701.7" y2="1749.8" stroke="#000" stroke-width="4.4"/>
<line x1="725.4" y1="1739.5" x2="725.4" y2="1749.8" stroke="#000" stroke-width="4.4"/>
<line x1="743.8" y1="1739.5" x2="743.8" y2="1749.8" stroke="#000" stroke-width="4.4"/>
<line x1="758.8" y1="1739.5" x2="758.8" y2="1749.8" stroke="#000" stroke-width="4.4"/>
<line x1="771.4" y1="1739.5" x2="771.4" y2="1749.8" stroke="#000" stroke-width="4.4"/>
<line x1="782.4" y1="1739.5" x2="782.4" y2="1749.8" stroke="#000" stroke-width="4.4"/>
<line x1="792.1" y1="1739.5" x2="792.1" y2="1749.8" stroke="#000" stroke-width="4.4"/>
<line x1="800.8" y1="1739.5" x2="800.8" y2="1754.8" stroke="#000" stroke-width="4.7"/>
<text x="183.19" y="1787.00" font-size="36.11" textLength="71.14" lengthAdjust="spacingAndGlyphs">1<tspan font-weight="bold">×</tspan>10</text>
<text x="253.16" y="1767.70" font-size="18.42" textLength="16.77" lengthAdjust="spacingAndGlyphs">-6</text>
<text x="372.69" y="1787.00" font-size="36.11" textLength="71.14" lengthAdjust="spacingAndGlyphs">1<tspan font-weight="bold">×</tspan>10</text>
<text x="442.66" y="1767.70" font-size="18.42" textLength="16.73" lengthAdjust="spacingAndGlyphs">-5</text>
<text x="562.19" y="1787.00" font-size="36.11" textLength="71.14" lengthAdjust="spacingAndGlyphs">1<tspan font-weight="bold">×</tspan>10</text>
<text x="632.21" y="1767.70" font-size="18.42" textLength="15.81" lengthAdjust="spacingAndGlyphs">-4</text>
<text x="751.69" y="1787.00" font-size="36.11" textLength="71.14" lengthAdjust="spacingAndGlyphs">1<tspan font-weight="bold">×</tspan>10</text>
<text x="821.66" y="1767.70" font-size="18.42" textLength="16.77" lengthAdjust="spacingAndGlyphs">-3</text>
<text x="467.92" y="1807.50" font-size="36.11" textLength="76.73" lengthAdjust="spacingAndGlyphs">mol/L</text>
<line x1="611.3" y1="1356.5" x2="611.3" y2="1405.0" stroke="#c83020" stroke-width="3.2"/>
<line x1="596.4" y1="1356.5" x2="626.2" y2="1356.5" stroke="#c83020" stroke-width="3.2" stroke-linecap="round"/>
<line x1="596.4" y1="1405.0" x2="626.2" y2="1405.0" stroke="#c83020" stroke-width="3.2" stroke-linecap="round"/>
<line x1="701.7" y1="1371.9" x2="701.7" y2="1420.6" stroke="#c83020" stroke-width="3.2"/>
<line x1="686.8" y1="1371.9" x2="716.6" y2="1371.9" stroke="#c83020" stroke-width="3.2" stroke-linecap="round"/>
<line x1="686.8" y1="1420.6" x2="716.6" y2="1420.6" stroke="#c83020" stroke-width="3.2" stroke-linecap="round"/>
<ellipse cx="512.2" cy="1367.3" rx="15.2" ry="16.7" fill="#c83020"/>
<ellipse cx="611.3" cy="1381.0" rx="15.2" ry="16.7" fill="#c83020"/>
<ellipse cx="701.7" cy="1397.0" rx="15.2" ry="16.7" fill="#c83020"/>
<path d="M232.0,1363.9C247.1,1363.8 291.0,1363.5 322.7,1363.5C354.3,1363.5 397.6,1363.5 421.7,1363.9C445.9,1364.3 452.6,1365.1 467.7,1365.9C482.8,1366.7 497.1,1367.8 512.4,1368.7C527.7,1369.6 543.1,1370.1 559.6,1371.1C576.1,1372.1 595.5,1373.2 611.5,1374.7C627.5,1376.2 640.4,1377.8 655.5,1379.9C670.5,1382.0 694.1,1385.9 701.8,1387.1" fill="none" stroke="#3650a0" stroke-width="4.4" stroke-linejoin="round" stroke-linecap="butt"/>
<line x1="611.3" y1="1353.1" x2="611.3" y2="1395.9" stroke="#3650a0" stroke-width="3.2"/>
<line x1="596.4" y1="1353.1" x2="626.2" y2="1353.1" stroke="#3650a0" stroke-width="3.2" stroke-linecap="round"/>
<line x1="596.4" y1="1395.9" x2="626.2" y2="1395.9" stroke="#3650a0" stroke-width="3.2" stroke-linecap="round"/>
<line x1="701.7" y1="1358.7" x2="701.7" y2="1414.6" stroke="#3650a0" stroke-width="3.2"/>
<line x1="686.8" y1="1358.7" x2="716.6" y2="1358.7" stroke="#3650a0" stroke-width="3.2" stroke-linecap="round"/>
<line x1="686.8" y1="1414.6" x2="716.6" y2="1414.6" stroke="#3650a0" stroke-width="3.2" stroke-linecap="round"/>
<ellipse cx="232.3" cy="1363.9" rx="15.2" ry="16.7" fill="#3650a0"/>
<ellipse cx="322.7" cy="1363.3" rx="15.2" ry="16.7" fill="#3650a0"/>
<ellipse cx="421.8" cy="1363.3" rx="15.2" ry="16.7" fill="#3650a0"/>
<ellipse cx="512.2" cy="1369.1" rx="15.2" ry="16.7" fill="#3650a0"/>
<ellipse cx="611.3" cy="1373.9" rx="15.2" ry="16.7" fill="#3650a0"/>
<ellipse cx="701.7" cy="1387.1" rx="15.2" ry="16.7" fill="#3650a0"/>
<text x="703.0" y="1344.4" font-size="33.8" stroke="#000" stroke-width="0.5" text-anchor="middle" font-family="'Noto Serif CJK SC', 'Liberation Serif', serif">†</text>
<line x1="268.8" y1="1638.7" x2="309.4" y2="1638.7" stroke="#3650a0" stroke-width="3.2" stroke-linecap="round"/>
<ellipse cx="289.1" cy="1638.7" rx="15.3" ry="15.3" fill="#3650a0"/>
<text x="325.51" y="1646.80" font-size="33.72" textLength="43.91" lengthAdjust="spacingAndGlyphs">SE</text>
<line x1="268.8" y1="1692.1" x2="309.4" y2="1692.1" stroke="#c83020" stroke-width="3.2" stroke-linecap="round"/>
<ellipse cx="289.1" cy="1692.1" rx="15.3" ry="15.3" fill="#c83020"/>
<text x="325.71" y="1701.70" font-size="33.72" textLength="43.69" lengthAdjust="spacingAndGlyphs">EE</text>
<text x="910.79" y="1335.40" font-size="48.29" font-weight="bold" textLength="33.56" lengthAdjust="spacingAndGlyphs">D</text>
<line x1="1029.3" y1="1322.6" x2="1029.3" y2="1740.8" stroke="#000" stroke-width="4.7"/>
<line x1="1014.5" y1="1738.5" x2="1600.1" y2="1738.5" stroke="#000" stroke-width="4.7"/>
<line x1="1019.0" y1="1700.9" x2="1029.3" y2="1700.9" stroke="#000" stroke-width="4.5"/>
<line x1="1019.0" y1="1663.3" x2="1029.3" y2="1663.3" stroke="#000" stroke-width="4.5"/>
<line x1="1019.0" y1="1625.7" x2="1029.3" y2="1625.7" stroke="#000" stroke-width="4.5"/>
<line x1="1019.0" y1="1588.1" x2="1029.3" y2="1588.1" stroke="#000" stroke-width="4.5"/>
<line x1="1014.3" y1="1550.5" x2="1029.3" y2="1550.5" stroke="#000" stroke-width="4.7"/>
<line x1="1019.0" y1="1512.9" x2="1029.3" y2="1512.9" stroke="#000" stroke-width="4.5"/>
<line x1="1019.0" y1="1475.3" x2="1029.3" y2="1475.3" stroke="#000" stroke-width="4.5"/>
<line x1="1019.0" y1="1437.7" x2="1029.3" y2="1437.7" stroke="#000" stroke-width="4.5"/>
<line x1="1019.0" y1="1400.1" x2="1029.3" y2="1400.1" stroke="#000" stroke-width="4.5"/>
<line x1="1014.3" y1="1362.5" x2="1029.3" y2="1362.5" stroke="#000" stroke-width="4.7"/>
<line x1="1019.0" y1="1324.9" x2="1029.3" y2="1324.9" stroke="#000" stroke-width="4.5"/>
<text x="949.61" y="1377.20" font-size="36.11" textLength="52.42" lengthAdjust="spacingAndGlyphs">100</text>
<text x="967.61" y="1565.70" font-size="36.11" textLength="35.85" lengthAdjust="spacingAndGlyphs">50</text>
<text x="985.98" y="1744.50" font-size="36.11" textLength="17.34" lengthAdjust="spacingAndGlyphs">0</text>
<line x1="1029.3" y1="1738.5" x2="1029.3" y2="1753.8" stroke="#000" stroke-width="4.7"/>
<line x1="1086.3" y1="1738.5" x2="1086.3" y2="1748.8" stroke="#000" stroke-width="4.4"/>
<line x1="1119.7" y1="1738.5" x2="1119.7" y2="1748.8" stroke="#000" stroke-width="4.4"/>
<line x1="1143.4" y1="1738.5" x2="1143.4" y2="1748.8" stroke="#000" stroke-width="4.4"/>
<line x1="1161.8" y1="1738.5" x2="1161.8" y2="1748.8" stroke="#000" stroke-width="4.4"/>
<line x1="1176.8" y1="1738.5" x2="1176.8" y2="1748.8" stroke="#000" stroke-width="4.4"/>
<line x1="1189.4" y1="1738.5" x2="1189.4" y2="1748.8" stroke="#000" stroke-width="4.4"/>
<line x1="1200.4" y1="1738.5" x2="1200.4" y2="1748.8" stroke="#000" stroke-width="4.4"/>
<line x1="1210.1" y1="1738.5" x2="1210.1" y2="1748.8" stroke="#000" stroke-width="4.4"/>
<line x1="1218.8" y1="1738.5" x2="1218.8" y2="1753.8" stroke="#000" stroke-width="4.7"/>
<line x1="1275.8" y1="1738.5" x2="1275.8" y2="1748.8" stroke="#000" stroke-width="4.4"/>
<line x1="1309.2" y1="1738.5" x2="1309.2" y2="1748.8" stroke="#000" stroke-width="4.4"/>
<line x1="1332.9" y1="1738.5" x2="1332.9" y2="1748.8" stroke="#000" stroke-width="4.4"/>
<line x1="1351.3" y1="1738.5" x2="1351.3" y2="1748.8" stroke="#000" stroke-width="4.4"/>
<line x1="1366.3" y1="1738.5" x2="1366.3" y2="1748.8" stroke="#000" stroke-width="4.4"/>
<line x1="1378.9" y1="1738.5" x2="1378.9" y2="1748.8" stroke="#000" stroke-width="4.4"/>
<line x1="1389.9" y1="1738.5" x2="1389.9" y2="1748.8" stroke="#000" stroke-width="4.4"/>
<line x1="1399.6" y1="1738.5" x2="1399.6" y2="1748.8" stroke="#000" stroke-width="4.4"/>
<line x1="1408.3" y1="1738.5" x2="1408.3" y2="1753.8" stroke="#000" stroke-width="4.7"/>
<line x1="1465.3" y1="1738.5" x2="1465.3" y2="1748.8" stroke="#000" stroke-width="4.4"/>
<line x1="1498.7" y1="1738.5" x2="1498.7" y2="1748.8" stroke="#000" stroke-width="4.4"/>
<line x1="1522.4" y1="1738.5" x2="1522.4" y2="1748.8" stroke="#000" stroke-width="4.4"/>
<line x1="1540.8" y1="1738.5" x2="1540.8" y2="1748.8" stroke="#000" stroke-width="4.4"/>
<line x1="1555.8" y1="1738.5" x2="1555.8" y2="1748.8" stroke="#000" stroke-width="4.4"/>
<line x1="1568.4" y1="1738.5" x2="1568.4" y2="1748.8" stroke="#000" stroke-width="4.4"/>
<line x1="1579.4" y1="1738.5" x2="1579.4" y2="1748.8" stroke="#000" stroke-width="4.4"/>
<line x1="1589.1" y1="1738.5" x2="1589.1" y2="1748.8" stroke="#000" stroke-width="4.4"/>
<line x1="1597.8" y1="1738.5" x2="1597.8" y2="1753.8" stroke="#000" stroke-width="4.7"/>
<text x="985.59" y="1782.70" font-size="36.11" textLength="71.14" lengthAdjust="spacingAndGlyphs">1<tspan font-weight="bold">×</tspan>10</text>
<text x="1055.56" y="1763.40" font-size="18.42" textLength="16.77" lengthAdjust="spacingAndGlyphs">-6</text>
<text x="1175.09" y="1782.70" font-size="36.11" textLength="71.14" lengthAdjust="spacingAndGlyphs">1<tspan font-weight="bold">×</tspan>10</text>
<text x="1245.06" y="1763.40" font-size="18.42" textLength="16.73" lengthAdjust="spacingAndGlyphs">-5</text>
<text x="1364.59" y="1782.70" font-size="36.11" textLength="71.14" lengthAdjust="spacingAndGlyphs">1<tspan font-weight="bold">×</tspan>10</text>
<text x="1434.61" y="1763.40" font-size="18.42" textLength="15.81" lengthAdjust="spacingAndGlyphs">-4</text>
<text x="1554.09" y="1782.70" font-size="36.11" textLength="71.14" lengthAdjust="spacingAndGlyphs">1<tspan font-weight="bold">×</tspan>10</text>
<text x="1624.06" y="1763.40" font-size="18.42" textLength="16.77" lengthAdjust="spacingAndGlyphs">-3</text>
<text x="1271.99" y="1808.60" font-size="36.11" textLength="77.56" lengthAdjust="spacingAndGlyphs">mol/L</text>
<path d="M1028.8,1371.9C1036.0,1373.2 1056.9,1376.6 1071.9,1379.9C1087.0,1383.2 1103.1,1387.2 1119.1,1391.9C1135.0,1396.5 1151.3,1401.2 1167.8,1407.9C1184.3,1414.5 1202.2,1421.8 1218.1,1431.8C1234.1,1441.8 1248.6,1454.1 1263.7,1467.8C1278.7,1481.4 1293.8,1498.7 1308.4,1513.7C1323.1,1528.7 1335.1,1542.4 1351.6,1557.7C1368.1,1573.0 1390.9,1592.6 1407.5,1605.6C1424.2,1618.6 1436.4,1626.6 1451.5,1635.6C1466.5,1644.6 1490.1,1655.6 1497.8,1659.6" fill="none" stroke="#c83020" stroke-width="4.4" stroke-linejoin="round" stroke-linecap="butt"/>
<line x1="1218.8" y1="1393.9" x2="1218.8" y2="1460.6" stroke="#c83020" stroke-width="3.2"/>
<line x1="1203.9" y1="1393.9" x2="1233.7" y2="1393.9" stroke="#c83020" stroke-width="3.2" stroke-linecap="round"/>
<line x1="1203.9" y1="1460.6" x2="1233.7" y2="1460.6" stroke="#c83020" stroke-width="3.2" stroke-linecap="round"/>
<line x1="1309.2" y1="1468.6" x2="1309.2" y2="1578.5" stroke="#c83020" stroke-width="3.2"/>
<line x1="1294.3" y1="1468.6" x2="1324.1" y2="1468.6" stroke="#c83020" stroke-width="3.2" stroke-linecap="round"/>
<line x1="1294.3" y1="1578.5" x2="1324.1" y2="1578.5" stroke="#c83020" stroke-width="3.2" stroke-linecap="round"/>
<line x1="1408.3" y1="1572.5" x2="1408.3" y2="1632.0" stroke="#c83020" stroke-width="3.2"/>
<line x1="1393.4" y1="1572.5" x2="1423.2" y2="1572.5" stroke="#c83020" stroke-width="3.2" stroke-linecap="round"/>
<line x1="1393.4" y1="1632.0" x2="1423.2" y2="1632.0" stroke="#c83020" stroke-width="3.2" stroke-linecap="round"/>
<line x1="1498.7" y1="1627.6" x2="1498.7" y2="1685.5" stroke="#c83020" stroke-width="3.2"/>
<line x1="1483.8" y1="1627.6" x2="1513.6" y2="1627.6" stroke="#c83020" stroke-width="3.2" stroke-linecap="round"/>
<line x1="1483.8" y1="1685.5" x2="1513.6" y2="1685.5" stroke="#c83020" stroke-width="3.2" stroke-linecap="round"/>
<ellipse cx="1029.3" cy="1363.5" rx="15.2" ry="16.7" fill="#c83020"/>
<ellipse cx="1119.7" cy="1370.5" rx="15.2" ry="16.7" fill="#c83020"/>
<ellipse cx="1218.8" cy="1427.0" rx="15.2" ry="16.7" fill="#c83020"/>
<ellipse cx="1309.2" cy="1514.5" rx="15.2" ry="16.7" fill="#c83020"/>
<ellipse cx="1408.3" cy="1601.6" rx="15.2" ry="16.7" fill="#c83020"/>
<ellipse cx="1498.7" cy="1656.0" rx="15.2" ry="16.7" fill="#c83020"/>
<path d="M1028.8,1365.1C1043.8,1365.9 1087.5,1367.2 1119.1,1369.9C1150.6,1372.6 1194.0,1377.8 1218.1,1381.1C1242.2,1384.4 1248.6,1386.3 1263.7,1389.9C1278.7,1393.5 1292.4,1397.0 1308.4,1402.7C1324.4,1408.3 1343.1,1416.0 1359.6,1423.8C1376.1,1431.7 1392.2,1440.2 1407.5,1449.8C1422.8,1459.5 1436.4,1469.8 1451.5,1481.8C1466.5,1493.8 1490.1,1515.1 1497.8,1521.7" fill="none" stroke="#3650a0" stroke-width="4.4" stroke-linejoin="round" stroke-linecap="butt"/>
<line x1="1218.8" y1="1360.7" x2="1218.8" y2="1403.1" stroke="#3650a0" stroke-width="3.2"/>
<line x1="1203.9" y1="1360.7" x2="1233.7" y2="1360.7" stroke="#3650a0" stroke-width="3.2" stroke-linecap="round"/>
<line x1="1203.9" y1="1403.1" x2="1233.7" y2="1403.1" stroke="#3650a0" stroke-width="3.2" stroke-linecap="round"/>
<line x1="1309.2" y1="1354.7" x2="1309.2" y2="1440.6" stroke="#3650a0" stroke-width="3.2"/>
<line x1="1294.3" y1="1354.7" x2="1324.1" y2="1354.7" stroke="#3650a0" stroke-width="3.2" stroke-linecap="round"/>
<line x1="1294.3" y1="1440.6" x2="1324.1" y2="1440.6" stroke="#3650a0" stroke-width="3.2" stroke-linecap="round"/>
<line x1="1408.3" y1="1371.9" x2="1408.3" y2="1524.1" stroke="#3650a0" stroke-width="3.2"/>
<line x1="1393.4" y1="1371.9" x2="1423.2" y2="1371.9" stroke="#3650a0" stroke-width="3.2" stroke-linecap="round"/>
<line x1="1393.4" y1="1524.1" x2="1423.2" y2="1524.1" stroke="#3650a0" stroke-width="3.2" stroke-linecap="round"/>
<line x1="1498.7" y1="1455.0" x2="1498.7" y2="1592.4" stroke="#3650a0" stroke-width="3.2"/>
<line x1="1483.8" y1="1455.0" x2="1513.6" y2="1455.0" stroke="#3650a0" stroke-width="3.2" stroke-linecap="round"/>
<line x1="1483.8" y1="1592.4" x2="1513.6" y2="1592.4" stroke="#3650a0" stroke-width="3.2" stroke-linecap="round"/>
<ellipse cx="1029.3" cy="1365.9" rx="15.2" ry="16.7" fill="#3650a0"/>
<ellipse cx="1119.7" cy="1372.7" rx="15.2" ry="16.7" fill="#3650a0"/>
<ellipse cx="1218.8" cy="1381.9" rx="15.2" ry="16.7" fill="#3650a0"/>
<ellipse cx="1309.2" cy="1397.9" rx="15.2" ry="16.7" fill="#3650a0"/>
<ellipse cx="1408.3" cy="1449.0" rx="15.2" ry="16.7" fill="#3650a0"/>
<ellipse cx="1498.7" cy="1522.9" rx="15.2" ry="16.7" fill="#3650a0"/>
<text x="1306.4" y="1338.4" font-size="33.8" stroke="#000" stroke-width="0.5" text-anchor="middle" font-family="'Noto Serif CJK SC', 'Liberation Serif', serif">‡</text>
<text x="1404.7" y="1352.4" font-size="33.8" stroke="#000" stroke-width="0.5" text-anchor="middle" font-family="'Noto Serif CJK SC', 'Liberation Serif', serif">‡</text>
<text x="1496.6" y="1439.4" font-size="33.8" stroke="#000" stroke-width="0.5" text-anchor="middle" font-family="'Noto Serif CJK SC', 'Liberation Serif', serif">‡</text>
<line x1="1058.0" y1="1638.7" x2="1098.6" y2="1638.7" stroke="#3650a0" stroke-width="3.2" stroke-linecap="round"/>
<ellipse cx="1078.3" cy="1638.7" rx="15.3" ry="15.3" fill="#3650a0"/>
<text x="1114.41" y="1646.80" font-size="33.72" textLength="43.91" lengthAdjust="spacingAndGlyphs">SE</text>
<line x1="1058.0" y1="1692.1" x2="1098.6" y2="1692.1" stroke="#c83020" stroke-width="3.2" stroke-linecap="round"/>
<ellipse cx="1078.3" cy="1692.1" rx="15.3" ry="15.3" fill="#c83020"/>
<text x="1114.61" y="1701.70" font-size="33.72" textLength="43.69" lengthAdjust="spacingAndGlyphs">EE</text>
<text x="125.88" y="1883.80" font-size="48.29" font-weight="bold" textLength="30.08" lengthAdjust="spacingAndGlyphs">E</text>
<line x1="229.2" y1="1869.2" x2="229.2" y2="2287.5" stroke="#000" stroke-width="4.7"/>
<line x1="214.4" y1="2285.2" x2="799.4" y2="2285.2" stroke="#000" stroke-width="4.7"/>
<line x1="218.9" y1="2247.6" x2="229.2" y2="2247.6" stroke="#000" stroke-width="4.5"/>
<line x1="218.9" y1="2210.0" x2="229.2" y2="2210.0" stroke="#000" stroke-width="4.5"/>
<line x1="218.9" y1="2172.4" x2="229.2" y2="2172.4" stroke="#000" stroke-width="4.5"/>
<line x1="218.9" y1="2134.8" x2="229.2" y2="2134.8" stroke="#000" stroke-width="4.5"/>
<line x1="214.2" y1="2097.2" x2="229.2" y2="2097.2" stroke="#000" stroke-width="4.7"/>
<line x1="218.9" y1="2059.6" x2="229.2" y2="2059.6" stroke="#000" stroke-width="4.5"/>
<line x1="218.9" y1="2022.0" x2="229.2" y2="2022.0" stroke="#000" stroke-width="4.5"/>
<line x1="218.9" y1="1984.4" x2="229.2" y2="1984.4" stroke="#000" stroke-width="4.5"/>
<line x1="218.9" y1="1946.8" x2="229.2" y2="1946.8" stroke="#000" stroke-width="4.5"/>
<line x1="214.2" y1="1909.2" x2="229.2" y2="1909.2" stroke="#000" stroke-width="4.7"/>
<line x1="218.9" y1="1871.6" x2="229.2" y2="1871.6" stroke="#000" stroke-width="4.5"/>
<text x="152.12" y="1924.70" font-size="36.11" textLength="52.21" lengthAdjust="spacingAndGlyphs">100</text>
<text x="170.01" y="2113.30" font-size="36.11" textLength="35.85" lengthAdjust="spacingAndGlyphs">50</text>
<text x="188.03" y="2298.60" font-size="36.11" textLength="18.03" lengthAdjust="spacingAndGlyphs">0</text>
<line x1="229.2" y1="2285.2" x2="229.2" y2="2295.5" stroke="#000" stroke-width="4.4"/>
<line x1="264.7" y1="2285.2" x2="264.7" y2="2295.5" stroke="#000" stroke-width="4.4"/>
<line x1="292.2" y1="2285.2" x2="292.2" y2="2295.5" stroke="#000" stroke-width="4.4"/>
<line x1="314.7" y1="2285.2" x2="314.7" y2="2295.5" stroke="#000" stroke-width="4.4"/>
<line x1="333.7" y1="2285.2" x2="333.7" y2="2295.5" stroke="#000" stroke-width="4.4"/>
<line x1="350.1" y1="2285.2" x2="350.1" y2="2295.5" stroke="#000" stroke-width="4.4"/>
<line x1="364.7" y1="2285.2" x2="364.7" y2="2295.5" stroke="#000" stroke-width="4.4"/>
<line x1="377.6" y1="2285.2" x2="377.6" y2="2300.5" stroke="#000" stroke-width="4.7"/>
<line x1="463.1" y1="2285.2" x2="463.1" y2="2295.5" stroke="#000" stroke-width="4.4"/>
<line x1="513.1" y1="2285.2" x2="513.1" y2="2295.5" stroke="#000" stroke-width="4.4"/>
<line x1="548.6" y1="2285.2" x2="548.6" y2="2295.5" stroke="#000" stroke-width="4.4"/>
<line x1="576.1" y1="2285.2" x2="576.1" y2="2295.5" stroke="#000" stroke-width="4.4"/>
<line x1="598.6" y1="2285.2" x2="598.6" y2="2295.5" stroke="#000" stroke-width="4.4"/>
<line x1="617.6" y1="2285.2" x2="617.6" y2="2295.5" stroke="#000" stroke-width="4.4"/>
<line x1="634.0" y1="2285.2" x2="634.0" y2="2295.5" stroke="#000" stroke-width="4.4"/>
<line x1="648.6" y1="2285.2" x2="648.6" y2="2295.5" stroke="#000" stroke-width="4.4"/>
<line x1="661.5" y1="2285.2" x2="661.5" y2="2300.5" stroke="#000" stroke-width="4.7"/>
<line x1="747.0" y1="2285.2" x2="747.0" y2="2295.5" stroke="#000" stroke-width="4.4"/>
<line x1="797.0" y1="2285.2" x2="797.0" y2="2295.5" stroke="#000" stroke-width="4.4"/>
<text x="372.32" y="2332.70" font-size="36.11" textLength="17.37" lengthAdjust="spacingAndGlyphs">1</text>
<text x="641.81" y="2332.70" font-size="36.11" textLength="36.37" lengthAdjust="spacingAndGlyphs">10</text>
<text x="468.89" y="2357.70" font-size="36.11" textLength="66.91" lengthAdjust="spacingAndGlyphs">vol%</text>
<path d="M228.8,1908.7C243.9,1909.1 294.7,1910.0 319.9,1910.7C345.0,1911.4 361.8,1911.8 379.8,1912.7C397.8,1913.6 412.4,1914.5 427.7,1916.3C443.0,1918.1 457.4,1920.4 471.7,1923.5C486.0,1926.6 499.6,1929.2 513.6,1935.1C527.6,1941.0 541.8,1949.3 555.6,1959.1C569.4,1968.8 585.3,1983.0 596.3,1993.8C607.3,2004.6 613.2,2013.1 621.5,2023.8C629.8,2034.4 638.9,2047.1 646.3,2057.7C653.6,2068.4 659.6,2078.4 665.4,2087.7C671.3,2097.0 676.1,2105.3 681.4,2113.7C686.7,2122.0 692.4,2130.0 697.4,2137.6C702.4,2145.3 709.1,2156.0 711.4,2159.6" fill="none" stroke="#c83020" stroke-width="4.4" stroke-linejoin="round" stroke-linecap="butt"/>
<line x1="513.1" y1="1903.9" x2="513.1" y2="1942.7" stroke="#c83020" stroke-width="3.2"/>
<line x1="498.2" y1="1903.9" x2="528.0" y2="1903.9" stroke="#c83020" stroke-width="3.2" stroke-linecap="round"/>
<line x1="498.2" y1="1942.7" x2="528.0" y2="1942.7" stroke="#c83020" stroke-width="3.2" stroke-linecap="round"/>
<line x1="598.6" y1="1963.0" x2="598.6" y2="2044.6" stroke="#c83020" stroke-width="3.2"/>
<line x1="583.7" y1="1963.0" x2="613.5" y2="1963.0" stroke="#c83020" stroke-width="3.2" stroke-linecap="round"/>
<line x1="583.7" y1="2044.6" x2="613.5" y2="2044.6" stroke="#c83020" stroke-width="3.2" stroke-linecap="round"/>
<line x1="648.6" y1="2021.0" x2="648.6" y2="2107.3" stroke="#c83020" stroke-width="3.2"/>
<line x1="633.7" y1="2021.0" x2="663.5" y2="2021.0" stroke="#c83020" stroke-width="3.2" stroke-linecap="round"/>
<line x1="633.7" y1="2107.3" x2="663.5" y2="2107.3" stroke="#c83020" stroke-width="3.2" stroke-linecap="round"/>
<line x1="684.0" y1="2086.9" x2="684.0" y2="2149.2" stroke="#c83020" stroke-width="3.2"/>
<line x1="669.1" y1="2086.9" x2="698.9" y2="2086.9" stroke="#c83020" stroke-width="3.2" stroke-linecap="round"/>
<line x1="669.1" y1="2149.2" x2="698.9" y2="2149.2" stroke="#c83020" stroke-width="3.2" stroke-linecap="round"/>
<line x1="711.5" y1="2131.7" x2="711.5" y2="2205.6" stroke="#c83020" stroke-width="3.2"/>
<line x1="696.6" y1="2131.7" x2="726.4" y2="2131.7" stroke="#c83020" stroke-width="3.2" stroke-linecap="round"/>
<line x1="696.6" y1="2205.6" x2="726.4" y2="2205.6" stroke="#c83020" stroke-width="3.2" stroke-linecap="round"/>
<rect x="214.0" y="1892.6" width="30.4" height="32.8" fill="#c83020"/>
<rect x="412.4" y="1893.6" width="30.4" height="32.8" fill="#c83020"/>
<rect x="497.9" y="1908.6" width="30.4" height="32.8" fill="#c83020"/>
<rect x="583.4" y="1987.4" width="30.4" height="32.8" fill="#c83020"/>
<rect x="633.4" y="2048.1" width="30.4" height="32.8" fill="#c83020"/>
<rect x="668.8" y="2101.3" width="30.4" height="32.8" fill="#c83020"/>
<rect x="696.3" y="2152.0" width="30.4" height="32.8" fill="#c83020"/>
<path d="M228.8,1908.7C243.9,1909.0 294.7,1909.8 319.9,1910.3C345.0,1910.8 361.8,1911.1 379.8,1911.9C397.8,1912.7 412.4,1913.4 427.7,1915.1C443.0,1916.8 457.4,1919.0 471.7,1921.9C486.0,1924.8 499.6,1927.0 513.6,1932.7C527.6,1938.3 541.5,1946.3 555.6,1955.9C569.7,1965.4 587.0,1979.2 598.3,1989.8C609.6,2000.5 615.2,2009.1 623.5,2019.8C631.8,2030.4 640.9,2043.1 648.3,2053.7C655.6,2064.4 661.6,2074.4 667.4,2083.7C673.3,2093.0 678.1,2101.7 683.4,2109.7C688.7,2117.7 694.7,2125.3 699.4,2131.7C704.1,2138.0 709.4,2145.0 711.4,2147.6" fill="none" stroke="#3650a0" stroke-width="4.4" stroke-linejoin="round" stroke-linecap="butt"/>
<line x1="513.1" y1="1908.7" x2="513.1" y2="1943.0" stroke="#3650a0" stroke-width="3.2"/>
<line x1="498.2" y1="1908.7" x2="528.0" y2="1908.7" stroke="#3650a0" stroke-width="3.2" stroke-linecap="round"/>
<line x1="498.2" y1="1943.0" x2="528.0" y2="1943.0" stroke="#3650a0" stroke-width="3.2" stroke-linecap="round"/>
<line x1="598.6" y1="1937.9" x2="598.6" y2="2033.4" stroke="#3650a0" stroke-width="3.2"/>
<line x1="583.7" y1="1937.9" x2="613.5" y2="1937.9" stroke="#3650a0" stroke-width="3.2" stroke-linecap="round"/>
<line x1="583.7" y1="2033.4" x2="613.5" y2="2033.4" stroke="#3650a0" stroke-width="3.2" stroke-linecap="round"/>
<line x1="648.6" y1="1992.6" x2="648.6" y2="2118.5" stroke="#3650a0" stroke-width="3.2"/>
<line x1="633.7" y1="1992.6" x2="663.5" y2="1992.6" stroke="#3650a0" stroke-width="3.2" stroke-linecap="round"/>
<line x1="633.7" y1="2118.5" x2="663.5" y2="2118.5" stroke="#3650a0" stroke-width="3.2" stroke-linecap="round"/>
<line x1="684.0" y1="2034.6" x2="684.0" y2="2186.0" stroke="#3650a0" stroke-width="3.2"/>
<line x1="669.1" y1="2034.6" x2="698.9" y2="2034.6" stroke="#3650a0" stroke-width="3.2" stroke-linecap="round"/>
<line x1="669.1" y1="2186.0" x2="698.9" y2="2186.0" stroke="#3650a0" stroke-width="3.2" stroke-linecap="round"/>
<line x1="711.5" y1="2072.0" x2="711.5" y2="2218.7" stroke="#3650a0" stroke-width="3.2"/>
<line x1="696.6" y1="2072.0" x2="726.4" y2="2072.0" stroke="#3650a0" stroke-width="3.2" stroke-linecap="round"/>
<line x1="696.6" y1="2218.7" x2="726.4" y2="2218.7" stroke="#3650a0" stroke-width="3.2" stroke-linecap="round"/>
<rect x="214.0" y="1892.3" width="30.4" height="32.8" fill="#3650a0"/>
<rect x="412.4" y="1892.3" width="30.4" height="32.8" fill="#3650a0"/>
<rect x="497.9" y="1909.5" width="30.4" height="32.8" fill="#3650a0"/>
<rect x="583.4" y="1969.4" width="30.4" height="32.8" fill="#3650a0"/>
<rect x="633.4" y="2039.3" width="30.4" height="32.8" fill="#3650a0"/>
<rect x="668.8" y="2094.1" width="30.4" height="32.8" fill="#3650a0"/>
<rect x="696.3" y="2129.2" width="30.4" height="32.8" fill="#3650a0"/>
<line x1="268.6" y1="2175.6" x2="309.2" y2="2175.6" stroke="#3650a0" stroke-width="3.2" stroke-linecap="round"/>
<rect x="273.6" y="2160.3" width="30.5" height="30.5" fill="#3650a0"/>
<text x="322.31" y="2185.90" font-size="33.72" textLength="43.91" lengthAdjust="spacingAndGlyphs">SE</text>
<line x1="268.6" y1="2228.7" x2="309.2" y2="2228.7" stroke="#c83020" stroke-width="3.2" stroke-linecap="round"/>
<rect x="273.6" y="2213.4" width="30.5" height="30.5" fill="#c83020"/>
<text x="322.51" y="2241.30" font-size="33.72" textLength="43.69" lengthAdjust="spacingAndGlyphs">EE</text>
<text x="911.05" y="1883.80" font-size="48.29" font-weight="bold" textLength="27.81" lengthAdjust="spacingAndGlyphs">F</text>
<line x1="1031.0" y1="1867.9" x2="1031.0" y2="2286.2" stroke="#000" stroke-width="4.7"/>
<line x1="1016.2" y1="2283.8" x2="1601.1" y2="2283.8" stroke="#000" stroke-width="4.7"/>
<line x1="1020.7" y1="2246.2" x2="1031.0" y2="2246.2" stroke="#000" stroke-width="4.5"/>
<line x1="1020.7" y1="2208.6" x2="1031.0" y2="2208.6" stroke="#000" stroke-width="4.5"/>
<line x1="1020.7" y1="2171.0" x2="1031.0" y2="2171.0" stroke="#000" stroke-width="4.5"/>
<line x1="1020.7" y1="2133.4" x2="1031.0" y2="2133.4" stroke="#000" stroke-width="4.5"/>
<line x1="1016.0" y1="2095.8" x2="1031.0" y2="2095.8" stroke="#000" stroke-width="4.7"/>
<line x1="1020.7" y1="2058.2" x2="1031.0" y2="2058.2" stroke="#000" stroke-width="4.5"/>
<line x1="1020.7" y1="2020.6" x2="1031.0" y2="2020.6" stroke="#000" stroke-width="4.5"/>
<line x1="1020.7" y1="1983.0" x2="1031.0" y2="1983.0" stroke="#000" stroke-width="4.5"/>
<line x1="1020.7" y1="1945.4" x2="1031.0" y2="1945.4" stroke="#000" stroke-width="4.5"/>
<line x1="1016.0" y1="1907.8" x2="1031.0" y2="1907.8" stroke="#000" stroke-width="4.7"/>
<line x1="1020.7" y1="1870.2" x2="1031.0" y2="1870.2" stroke="#000" stroke-width="4.5"/>
<text x="953.02" y="1928.80" font-size="36.11" textLength="52.21" lengthAdjust="spacingAndGlyphs">100</text>
<text x="970.90" y="2117.60" font-size="36.11" textLength="36.06" lengthAdjust="spacingAndGlyphs">50</text>
<text x="989.77" y="2295.70" font-size="36.11" textLength="17.45" lengthAdjust="spacingAndGlyphs">0</text>
<line x1="1031.0" y1="2283.8" x2="1031.0" y2="2294.1" stroke="#000" stroke-width="4.4"/>
<line x1="1066.5" y1="2283.8" x2="1066.5" y2="2294.1" stroke="#000" stroke-width="4.4"/>
<line x1="1094.0" y1="2283.8" x2="1094.0" y2="2294.1" stroke="#000" stroke-width="4.4"/>
<line x1="1116.5" y1="2283.8" x2="1116.5" y2="2294.1" stroke="#000" stroke-width="4.4"/>
<line x1="1135.5" y1="2283.8" x2="1135.5" y2="2294.1" stroke="#000" stroke-width="4.4"/>
<line x1="1151.9" y1="2283.8" x2="1151.9" y2="2294.1" stroke="#000" stroke-width="4.4"/>
<line x1="1166.5" y1="2283.8" x2="1166.5" y2="2294.1" stroke="#000" stroke-width="4.4"/>
<line x1="1179.4" y1="2283.8" x2="1179.4" y2="2299.1" stroke="#000" stroke-width="4.7"/>
<line x1="1264.9" y1="2283.8" x2="1264.9" y2="2294.1" stroke="#000" stroke-width="4.4"/>
<line x1="1314.9" y1="2283.8" x2="1314.9" y2="2294.1" stroke="#000" stroke-width="4.4"/>
<line x1="1350.4" y1="2283.8" x2="1350.4" y2="2294.1" stroke="#000" stroke-width="4.4"/>
<line x1="1377.9" y1="2283.8" x2="1377.9" y2="2294.1" stroke="#000" stroke-width="4.4"/>
<line x1="1400.4" y1="2283.8" x2="1400.4" y2="2294.1" stroke="#000" stroke-width="4.4"/>
<line x1="1419.4" y1="2283.8" x2="1419.4" y2="2294.1" stroke="#000" stroke-width="4.4"/>
<line x1="1435.8" y1="2283.8" x2="1435.8" y2="2294.1" stroke="#000" stroke-width="4.4"/>
<line x1="1450.4" y1="2283.8" x2="1450.4" y2="2294.1" stroke="#000" stroke-width="4.4"/>
<line x1="1463.3" y1="2283.8" x2="1463.3" y2="2299.1" stroke="#000" stroke-width="4.7"/>
<line x1="1548.8" y1="2283.8" x2="1548.8" y2="2294.1" stroke="#000" stroke-width="4.4"/>
<line x1="1598.8" y1="2283.8" x2="1598.8" y2="2294.1" stroke="#000" stroke-width="4.4"/>
<text x="1170.62" y="2336.70" font-size="36.11" textLength="17.37" lengthAdjust="spacingAndGlyphs">1</text>
<text x="1440.01" y="2336.70" font-size="36.11" textLength="36.37" lengthAdjust="spacingAndGlyphs">10</text>
<text x="1273.40" y="2357.70" font-size="36.11" textLength="64.26" lengthAdjust="spacingAndGlyphs">vol%</text>
<path d="M1030.8,1907.9C1045.6,1908.1 1095.0,1908.3 1119.9,1908.7C1144.7,1909.1 1161.5,1909.1 1179.8,1910.3C1198.1,1911.5 1216.4,1913.3 1229.7,1915.9C1243.0,1918.5 1250.0,1921.6 1259.7,1925.9C1269.3,1930.2 1278.5,1935.2 1287.7,1941.9C1296.8,1948.5 1306.2,1956.2 1314.8,1965.8C1323.5,1975.5 1332.1,1988.8 1339.6,1999.8C1347.1,2010.8 1352.9,2020.5 1359.6,2031.8C1366.2,2043.1 1372.9,2056.1 1379.5,2067.7C1386.2,2079.4 1392.9,2090.0 1399.5,2101.7C1406.2,2113.3 1412.8,2126.3 1419.5,2137.6C1426.2,2149.0 1434.5,2161.9 1439.5,2169.6C1444.5,2177.3 1444.8,2176.6 1449.5,2183.6C1454.1,2190.6 1461.6,2202.9 1467.4,2211.6C1473.3,2220.2 1479.3,2229.2 1484.6,2235.5C1489.9,2241.9 1494.6,2245.5 1499.4,2249.5C1504.2,2253.5 1511.1,2257.8 1513.4,2259.5" fill="none" stroke="#c83020" stroke-width="4.4" stroke-linejoin="round" stroke-linecap="butt"/>
<line x1="1229.4" y1="1899.0" x2="1229.4" y2="1935.0" stroke="#c83020" stroke-width="3.2"/>
<line x1="1214.5" y1="1899.0" x2="1244.3" y2="1899.0" stroke="#c83020" stroke-width="3.2" stroke-linecap="round"/>
<line x1="1214.5" y1="1935.0" x2="1244.3" y2="1935.0" stroke="#c83020" stroke-width="3.2" stroke-linecap="round"/>
<line x1="1314.9" y1="1920.0" x2="1314.9" y2="2012.2" stroke="#c83020" stroke-width="3.2"/>
<line x1="1300.0" y1="1920.0" x2="1329.8" y2="1920.0" stroke="#c83020" stroke-width="3.2" stroke-linecap="round"/>
<line x1="1300.0" y1="2012.2" x2="1329.8" y2="2012.2" stroke="#c83020" stroke-width="3.2" stroke-linecap="round"/>
<line x1="1400.4" y1="2049.3" x2="1400.4" y2="2146.8" stroke="#c83020" stroke-width="3.2"/>
<line x1="1385.5" y1="2049.3" x2="1415.3" y2="2049.3" stroke="#c83020" stroke-width="3.2" stroke-linecap="round"/>
<line x1="1385.5" y1="2146.8" x2="1415.3" y2="2146.8" stroke="#c83020" stroke-width="3.2" stroke-linecap="round"/>
<line x1="1450.4" y1="2109.7" x2="1450.4" y2="2249.5" stroke="#c83020" stroke-width="3.2"/>
<line x1="1435.5" y1="2109.7" x2="1465.3" y2="2109.7" stroke="#c83020" stroke-width="3.2" stroke-linecap="round"/>
<line x1="1435.5" y1="2249.5" x2="1465.3" y2="2249.5" stroke="#c83020" stroke-width="3.2" stroke-linecap="round"/>
<line x1="1485.8" y1="2211.6" x2="1485.8" y2="2286.0" stroke="#c83020" stroke-width="3.2"/>
<line x1="1470.9" y1="2211.6" x2="1500.7" y2="2211.6" stroke="#c83020" stroke-width="3.2" stroke-linecap="round"/>
<rect x="1015.8" y="1891.6" width="30.4" height="32.8" fill="#c83020"/>
<rect x="1214.2" y="1898.6" width="30.4" height="32.8" fill="#c83020"/>
<rect x="1299.7" y="1949.4" width="30.4" height="32.8" fill="#c83020"/>
<rect x="1385.2" y="2081.3" width="30.4" height="32.8" fill="#c83020"/>
<rect x="1435.2" y="2163.2" width="30.4" height="32.8" fill="#c83020"/>
<rect x="1470.6" y="2238.2" width="30.4" height="32.8" fill="#c83020"/>
<rect x="1498.1" y="2261.1" width="30.4" height="32.8" fill="#c83020"/>
<path d="M1030.8,1907.9C1045.6,1908.1 1095.0,1908.6 1119.9,1909.1C1144.7,1909.6 1161.5,1910.0 1179.8,1911.1C1198.1,1912.2 1214.4,1913.8 1229.7,1915.9C1245.0,1918.0 1257.5,1920.2 1271.7,1923.9C1285.9,1927.6 1300.8,1931.9 1314.8,1937.9C1328.8,1943.9 1341.5,1950.5 1355.6,1959.9C1369.7,1969.2 1388.2,1983.2 1399.5,1993.8C1410.8,2004.5 1415.2,2012.8 1423.5,2023.8C1431.8,2034.8 1442.1,2048.7 1449.5,2059.7C1456.8,2070.7 1461.6,2080.0 1467.4,2089.7C1473.3,2099.4 1479.3,2109.7 1484.6,2117.7C1489.9,2125.7 1494.7,2131.3 1499.4,2137.6C1504.1,2144.0 1510.4,2152.6 1512.6,2155.6" fill="none" stroke="#3650a0" stroke-width="4.4" stroke-linejoin="round" stroke-linecap="butt"/>
<line x1="1229.4" y1="1895.9" x2="1229.4" y2="1937.9" stroke="#3650a0" stroke-width="3.2"/>
<line x1="1214.5" y1="1895.9" x2="1244.3" y2="1895.9" stroke="#3650a0" stroke-width="3.2" stroke-linecap="round"/>
<line x1="1214.5" y1="1937.9" x2="1244.3" y2="1937.9" stroke="#3650a0" stroke-width="3.2" stroke-linecap="round"/>
<line x1="1314.9" y1="1901.9" x2="1314.9" y2="1966.2" stroke="#3650a0" stroke-width="3.2"/>
<line x1="1300.0" y1="1901.9" x2="1329.8" y2="1901.9" stroke="#3650a0" stroke-width="3.2" stroke-linecap="round"/>
<line x1="1300.0" y1="1966.2" x2="1329.8" y2="1966.2" stroke="#3650a0" stroke-width="3.2" stroke-linecap="round"/>
<line x1="1400.4" y1="1964.3" x2="1400.4" y2="2027.8" stroke="#3650a0" stroke-width="3.2"/>
<line x1="1385.5" y1="1964.3" x2="1415.3" y2="1964.3" stroke="#3650a0" stroke-width="3.2" stroke-linecap="round"/>
<line x1="1385.5" y1="2027.8" x2="1415.3" y2="2027.8" stroke="#3650a0" stroke-width="3.2" stroke-linecap="round"/>
<line x1="1450.4" y1="2035.8" x2="1450.4" y2="2085.3" stroke="#3650a0" stroke-width="3.2"/>
<line x1="1435.5" y1="2035.8" x2="1465.3" y2="2035.8" stroke="#3650a0" stroke-width="3.2" stroke-linecap="round"/>
<line x1="1435.5" y1="2085.3" x2="1465.3" y2="2085.3" stroke="#3650a0" stroke-width="3.2" stroke-linecap="round"/>
<line x1="1513.3" y1="2130.4" x2="1513.3" y2="2181.6" stroke="#3650a0" stroke-width="3.2"/>
<line x1="1498.4" y1="2130.4" x2="1528.2" y2="2130.4" stroke="#3650a0" stroke-width="3.2" stroke-linecap="round"/>
<line x1="1498.4" y1="2181.6" x2="1528.2" y2="2181.6" stroke="#3650a0" stroke-width="3.2" stroke-linecap="round"/>
<rect x="1015.8" y="1891.5" width="30.4" height="32.8" fill="#3650a0"/>
<rect x="1214.2" y="1900.3" width="30.4" height="32.8" fill="#3650a0"/>
<rect x="1299.7" y="1918.3" width="30.4" height="32.8" fill="#3650a0"/>
<rect x="1385.2" y="1979.4" width="30.4" height="32.8" fill="#3650a0"/>
<rect x="1435.2" y="2044.1" width="30.4" height="32.8" fill="#3650a0"/>
<rect x="1470.6" y="2101.3" width="30.4" height="32.8" fill="#3650a0"/>
<rect x="1498.1" y="2140.0" width="30.4" height="32.8" fill="#3650a0"/>
<text x="1398.3" y="1945.1" font-size="33.8" stroke="#000" stroke-width="0.5" text-anchor="middle" font-family="'Noto Serif CJK SC', 'Liberation Serif', serif">‡</text>
<text x="1450.3" y="2014.2" font-size="33.8" stroke="#000" stroke-width="0.5" text-anchor="middle" font-family="'Noto Serif CJK SC', 'Liberation Serif', serif">‡</text>
<text x="1484.6" y="2082.1" font-size="33.8" stroke="#000" stroke-width="0.5" text-anchor="middle" font-family="'Noto Serif CJK SC', 'Liberation Serif', serif">‡</text>
<text x="1512.6" y="2112.9" font-size="33.8" stroke="#000" stroke-width="0.5" text-anchor="middle" font-family="'Noto Serif CJK SC', 'Liberation Serif', serif">‡</text>
<line x1="1058.1" y1="2175.6" x2="1098.7" y2="2175.6" stroke="#3650a0" stroke-width="3.2" stroke-linecap="round"/>
<rect x="1063.2" y="2160.3" width="30.5" height="30.5" fill="#3650a0"/>
<text x="1111.81" y="2185.90" font-size="33.72" textLength="43.91" lengthAdjust="spacingAndGlyphs">SE</text>
<line x1="1058.1" y1="2228.7" x2="1098.7" y2="2228.7" stroke="#c83020" stroke-width="3.2" stroke-linecap="round"/>
<rect x="1063.2" y="2213.4" width="30.5" height="30.5" fill="#c83020"/>
<text x="1112.01" y="2241.30" font-size="33.72" textLength="43.69" lengthAdjust="spacingAndGlyphs">EE</text>
</svg>
</body></html>
